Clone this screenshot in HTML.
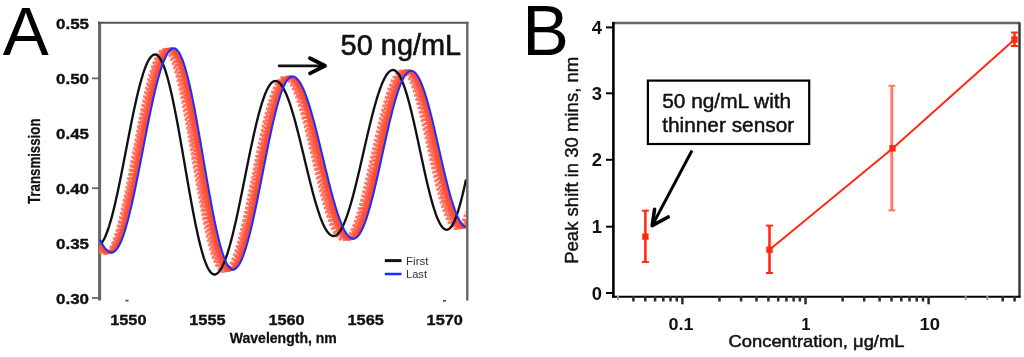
<!DOCTYPE html>
<html><head><meta charset="utf-8"><style>
html,body{margin:0;padding:0;background:#fff;overflow:hidden;width:1024px;height:357px;}
svg{display:block;will-change:transform;}
text{font-family:"Liberation Sans",sans-serif;}
.ya{font-size:15px;font-weight:bold;fill:#111;stroke:#111;stroke-width:0.35px;}
.yb{font-size:18.4px;font-weight:bold;fill:#111;}
</style></head><body>
<svg width="1024" height="357" viewBox="0 0 1024 357">
<rect width="1024" height="357" fill="#fff"/>
<!-- Panel A -->
<text x="2.8" y="54.9" font-size="69" fill="#000">A</text>
<line x1="99.6" y1="21.7" x2="99.6" y2="300.4" stroke="#666" stroke-width="3"/><line x1="98.1" y1="22.7" x2="468.5" y2="22.7" stroke="#555" stroke-width="2"/>
<g>
<path d="M100.0,252.5 L101.0,253.2 L102.0,253.6 L103.0,253.8 L104.0,253.8 L105.0,253.5 L106.0,252.9 L107.0,252.1 L108.0,251.0 L109.0,249.6 L110.0,247.9 L111.0,246.0 L112.0,243.8 L113.0,241.4 L114.0,238.7 L115.0,235.7 L116.0,232.6 L117.0,229.2 L118.0,225.6 L119.0,221.8 L120.0,217.8 L121.0,213.6 L122.0,209.2 L123.0,204.7 L124.0,200.1 L125.0,195.3 L126.0,190.4 L127.0,185.3 L128.0,180.2 L129.0,175.0 L130.0,169.8 L131.0,164.5 L132.0,159.1 L133.0,153.8 L134.0,148.4 L135.0,143.0 L136.0,137.7 L137.0,132.4 L138.0,127.2 L139.0,122.0 L140.0,116.9 L141.0,111.9 L142.0,107.0 L143.0,102.2 L144.0,97.6 L145.0,93.1 L146.0,88.8 L147.0,84.7 L148.0,80.7 L149.0,76.9 L150.0,73.4 L151.0,70.0 L152.0,66.9 L153.0,64.0 L154.0,61.4 L155.0,59.0 L156.0,56.9 L157.0,55.0 L158.0,53.4 L159.0,52.1 L160.0,51.0 L161.0,50.2 L162.0,49.7 L163.0,49.5 L164.0,49.6 L165.0,50.0 L166.0,50.7 L167.0,51.7 L168.0,53.0 L169.0,54.6 L170.0,56.5 L171.0,58.7 L172.0,61.2 L173.0,64.0 L174.0,67.0 L175.0,70.3 L176.0,73.8 L177.0,77.6 L178.0,81.7 L179.0,85.9 L180.0,90.4 L181.0,95.0 L182.0,99.9 L183.0,104.9 L184.0,110.1 L185.0,115.4 L186.0,120.8 L187.0,126.4 L188.0,132.0 L189.0,137.7 L190.0,143.5 L191.0,149.4 L192.0,155.2 L193.0,161.1 L194.0,167.0 L195.0,172.9 L196.0,178.7 L197.0,184.5 L198.0,190.2 L199.0,195.8 L200.0,201.4 L201.0,206.8 L202.0,212.1 L203.0,217.2 L204.0,222.2 L205.0,227.0 L206.0,231.7 L207.0,236.1 L208.0,240.3 L209.0,244.3 L210.0,248.1 L211.0,251.6 L212.0,254.9 L213.0,257.9 L214.0,260.6 L215.0,263.0 L216.0,265.2 L217.0,267.1 L218.0,268.6 L219.0,269.9 L220.0,270.8 L221.0,271.5 L222.0,271.8 L223.0,271.9 L224.0,271.6 L225.0,271.1 L226.0,270.3 L227.0,269.3 L228.0,268.0 L229.0,266.5 L230.0,264.7 L231.0,262.7 L232.0,260.4 L233.0,257.9 L234.0,255.1 L235.0,252.2 L236.0,249.0 L237.0,245.7 L238.0,242.1 L239.0,238.4 L240.0,234.5 L241.0,230.4 L242.0,226.1 L243.0,221.8 L244.0,217.3 L245.0,212.7 L246.0,207.9 L247.0,203.1 L248.0,198.2 L249.0,193.3 L250.0,188.3 L251.0,183.3 L252.0,178.2 L253.0,173.1 L254.0,168.1 L255.0,163.0 L256.0,158.0 L257.0,153.0 L258.0,148.1 L259.0,143.3 L260.0,138.5 L261.0,133.9 L262.0,129.3 L263.0,124.9 L264.0,120.6 L265.0,116.5 L266.0,112.5 L267.0,108.7 L268.0,105.0 L269.0,101.6 L270.0,98.3 L271.0,95.3 L272.0,92.5 L273.0,89.9 L274.0,87.5 L275.0,85.4 L276.0,83.5 L277.0,81.8 L278.0,80.4 L279.0,79.3 L280.0,78.4 L281.0,77.8 L282.0,77.5 L283.0,77.4 L284.0,77.5 L285.0,77.9 L286.0,78.5 L287.0,79.4 L288.0,80.4 L289.0,81.7 L290.0,83.2 L291.0,84.9 L292.0,86.8 L293.0,88.9 L294.0,91.2 L295.0,93.7 L296.0,96.3 L297.0,99.2 L298.0,102.2 L299.0,105.4 L300.0,108.7 L301.0,112.1 L302.0,115.7 L303.0,119.4 L304.0,123.2 L305.0,127.2 L306.0,131.2 L307.0,135.3 L308.0,139.4 L309.0,143.6 L310.0,147.9 L311.0,152.1 L312.0,156.4 L313.0,160.7 L314.0,165.0 L315.0,169.3 L316.0,173.5 L317.0,177.7 L318.0,181.9 L319.0,186.0 L320.0,190.0 L321.0,193.9 L322.0,197.8 L323.0,201.5 L324.0,205.1 L325.0,208.5 L326.0,211.9 L327.0,215.0 L328.0,218.1 L329.0,220.9 L330.0,223.6 L331.0,226.1 L332.0,228.4 L333.0,230.6 L334.0,232.5 L335.0,234.2 L336.0,235.7 L337.0,237.0 L338.0,238.0 L339.0,238.9 L340.0,239.5 L341.0,239.9 L342.0,240.1 L343.0,240.0 L344.0,239.7 L345.0,239.2 L346.0,238.4 L347.0,237.4 L348.0,236.1 L349.0,234.7 L350.0,233.0 L351.0,231.0 L352.0,228.9 L353.0,226.5 L354.0,224.0 L355.0,221.2 L356.0,218.3 L357.0,215.1 L358.0,211.9 L359.0,208.4 L360.0,204.8 L361.0,201.1 L362.0,197.2 L363.0,193.2 L364.0,189.1 L365.0,184.9 L366.0,180.6 L367.0,176.2 L368.0,171.8 L369.0,167.4 L370.0,162.9 L371.0,158.4 L372.0,153.8 L373.0,149.3 L374.0,144.8 L375.0,140.3 L376.0,135.9 L377.0,131.5 L378.0,127.2 L379.0,123.0 L380.0,118.9 L381.0,114.8 L382.0,110.9 L383.0,107.1 L384.0,103.5 L385.0,100.0 L386.0,96.6 L387.0,93.5 L388.0,90.5 L389.0,87.6 L390.0,85.0 L391.0,82.6 L392.0,80.4 L393.0,78.4 L394.0,76.6 L395.0,75.1 L396.0,73.7 L397.0,72.6 L398.0,71.8 L399.0,71.2 L400.0,70.8 L401.0,70.6 L402.0,70.8 L403.0,71.1 L404.0,71.8 L405.0,72.7 L406.0,73.8 L407.0,75.2 L408.0,76.9 L409.0,78.8 L410.0,80.9 L411.0,83.3 L412.0,85.9 L413.0,88.7 L414.0,91.7 L415.0,94.9 L416.0,98.2 L417.0,101.8 L418.0,105.5 L419.0,109.3 L420.0,113.3 L421.0,117.4 L422.0,121.7 L423.0,126.0 L424.0,130.4 L425.0,134.8 L426.0,139.3 L427.0,143.8 L428.0,148.4 L429.0,153.0 L430.0,157.5 L431.0,162.1 L432.0,166.5 L433.0,171.0 L434.0,175.3 L435.0,179.6 L436.0,183.8 L437.0,187.8 L438.0,191.8 L439.0,195.6 L440.0,199.2 L441.0,202.7 L442.0,206.0 L443.0,209.1 L444.0,212.0 L445.0,214.8 L446.0,217.3 L447.0,219.5 L448.0,221.6 L449.0,223.4 L450.0,224.9 L451.0,226.2 L452.0,227.3 L453.0,228.1 L454.0,228.6 L455.0,228.9 L456.0,228.9 L457.0,228.6 L458.0,228.0 L459.0,227.0 L460.0,225.7 L461.0,224.1 L462.0,222.2 L463.0,220.0 L464.0,217.5 L465.0,214.8 L466.0,211.7" stroke="#ff8272" stroke-width="2.4" fill="none" stroke-dasharray="2.6 1.8"/>
<path d="M100.0,251.7 L101.0,252.5 L102.0,253.1 L103.0,253.5 L104.0,253.6 L105.0,253.6 L106.0,253.3 L107.0,252.7 L108.0,251.8 L109.0,250.7 L110.0,249.3 L111.0,247.6 L112.0,245.7 L113.0,243.5 L114.0,241.0 L115.0,238.3 L116.0,235.4 L117.0,232.2 L118.0,228.8 L119.0,225.2 L120.0,221.4 L121.0,217.4 L122.0,213.3 L123.0,208.9 L124.0,204.4 L125.0,199.8 L126.0,195.0 L127.0,190.1 L128.0,185.1 L129.0,180.0 L130.0,174.8 L131.0,169.6 L132.0,164.3 L133.0,159.0 L134.0,153.7 L135.0,148.3 L136.0,143.0 L137.0,137.7 L138.0,132.4 L139.0,127.2 L140.0,122.0 L141.0,116.9 L142.0,111.9 L143.0,107.1 L144.0,102.3 L145.0,97.7 L146.0,93.2 L147.0,88.9 L148.0,84.8 L149.0,80.8 L150.0,77.1 L151.0,73.5 L152.0,70.2 L153.0,67.0 L154.0,64.2 L155.0,61.5 L156.0,59.1 L157.0,57.0 L158.0,55.1 L159.0,53.4 L160.0,52.1 L161.0,51.0 L162.0,50.2 L163.0,49.7 L164.0,49.4 L165.0,49.4 L166.0,49.8 L167.0,50.4 L168.0,51.4 L169.0,52.7 L170.0,54.2 L171.0,56.1 L172.0,58.3 L173.0,60.7 L174.0,63.4 L175.0,66.5 L176.0,69.7 L177.0,73.2 L178.0,77.0 L179.0,81.0 L180.0,85.2 L181.0,89.7 L182.0,94.3 L183.0,99.1 L184.0,104.1 L185.0,109.2 L186.0,114.5 L187.0,120.0 L188.0,125.5 L189.0,131.1 L190.0,136.8 L191.0,142.6 L192.0,148.5 L193.0,154.3 L194.0,160.2 L195.0,166.1 L196.0,172.0 L197.0,177.8 L198.0,183.6 L199.0,189.3 L200.0,195.0 L201.0,200.5 L202.0,205.9 L203.0,211.2 L204.0,216.4 L205.0,221.4 L206.0,226.2 L207.0,230.9 L208.0,235.4 L209.0,239.6 L210.0,243.6 L211.0,247.4 L212.0,251.0 L213.0,254.2 L214.0,257.3 L215.0,260.0 L216.0,262.5 L217.0,264.7 L218.0,266.6 L219.0,268.2 L220.0,269.5 L221.0,270.5 L222.0,271.2 L223.0,271.5 L224.0,271.6 L225.0,271.4 L226.0,270.9 L227.0,270.2 L228.0,269.2 L229.0,267.9 L230.0,266.4 L231.0,264.6 L232.0,262.6 L233.0,260.4 L234.0,257.9 L235.0,255.2 L236.0,252.3 L237.0,249.1 L238.0,245.8 L239.0,242.2 L240.0,238.5 L241.0,234.6 L242.0,230.5 L243.0,226.3 L244.0,221.9 L245.0,217.4 L246.0,212.8 L247.0,208.1 L248.0,203.3 L249.0,198.4 L250.0,193.5 L251.0,188.5 L252.0,183.5 L253.0,178.4 L254.0,173.3 L255.0,168.2 L256.0,163.2 L257.0,158.2 L258.0,153.2 L259.0,148.3 L260.0,143.4 L261.0,138.7 L262.0,134.0 L263.0,129.4 L264.0,125.0 L265.0,120.7 L266.0,116.5 L267.0,112.5 L268.0,108.7 L269.0,105.1 L270.0,101.6 L271.0,98.4 L272.0,95.3 L273.0,92.5 L274.0,89.9 L275.0,87.5 L276.0,85.3 L277.0,83.4 L278.0,81.8 L279.0,80.4 L280.0,79.2 L281.0,78.4 L282.0,77.7 L283.0,77.4 L284.0,77.3 L285.0,77.4 L286.0,77.8 L287.0,78.4 L288.0,79.2 L289.0,80.3 L290.0,81.5 L291.0,83.0 L292.0,84.7 L293.0,86.6 L294.0,88.7 L295.0,90.9 L296.0,93.4 L297.0,96.1 L298.0,98.9 L299.0,101.9 L300.0,105.0 L301.0,108.3 L302.0,111.8 L303.0,115.3 L304.0,119.0 L305.0,122.8 L306.0,126.7 L307.0,130.7 L308.0,134.8 L309.0,138.9 L310.0,143.1 L311.0,147.3 L312.0,151.6 L313.0,155.8 L314.0,160.1 L315.0,164.4 L316.0,168.7 L317.0,172.9 L318.0,177.1 L319.0,181.3 L320.0,185.3 L321.0,189.3 L322.0,193.3 L323.0,197.1 L324.0,200.8 L325.0,204.4 L326.0,207.9 L327.0,211.2 L328.0,214.4 L329.0,217.5 L330.0,220.4 L331.0,223.1 L332.0,225.6 L333.0,227.9 L334.0,230.1 L335.0,232.0 L336.0,233.8 L337.0,235.3 L338.0,236.6 L339.0,237.7 L340.0,238.6 L341.0,239.3 L342.0,239.7 L343.0,239.9 L344.0,239.9 L345.0,239.7 L346.0,239.2 L347.0,238.4 L348.0,237.5 L349.0,236.2 L350.0,234.8 L351.0,233.1 L352.0,231.2 L353.0,229.1 L354.0,226.8 L355.0,224.3 L356.0,221.6 L357.0,218.7 L358.0,215.6 L359.0,212.3 L360.0,208.9 L361.0,205.3 L362.0,201.6 L363.0,197.7 L364.0,193.7 L365.0,189.6 L366.0,185.4 L367.0,181.2 L368.0,176.8 L369.0,172.4 L370.0,167.9 L371.0,163.4 L372.0,158.9 L373.0,154.4 L374.0,149.9 L375.0,145.4 L376.0,140.9 L377.0,136.4 L378.0,132.1 L379.0,127.7 L380.0,123.5 L381.0,119.3 L382.0,115.3 L383.0,111.4 L384.0,107.6 L385.0,103.9 L386.0,100.4 L387.0,97.0 L388.0,93.8 L389.0,90.8 L390.0,87.9 L391.0,85.3 L392.0,82.8 L393.0,80.6 L394.0,78.6 L395.0,76.8 L396.0,75.2 L397.0,73.9 L398.0,72.7 L399.0,71.9 L400.0,71.2 L401.0,70.8 L402.0,70.7 L403.0,70.8 L404.0,71.1 L405.0,71.7 L406.0,72.6 L407.0,73.7 L408.0,75.1 L409.0,76.7 L410.0,78.6 L411.0,80.7 L412.0,83.0 L413.0,85.6 L414.0,88.3 L415.0,91.3 L416.0,94.5 L417.0,97.8 L418.0,101.3 L419.0,105.0 L420.0,108.8 L421.0,112.8 L422.0,116.8 L423.0,121.0 L424.0,125.3 L425.0,129.7 L426.0,134.1 L427.0,138.6 L428.0,143.1 L429.0,147.7 L430.0,152.2 L431.0,156.7 L432.0,161.3 L433.0,165.7 L434.0,170.2 L435.0,174.5 L436.0,178.8 L437.0,183.0 L438.0,187.0 L439.0,191.0 L440.0,194.8 L441.0,198.4 L442.0,201.9 L443.0,205.3 L444.0,208.4 L445.0,211.4 L446.0,214.1 L447.0,216.6 L448.0,218.9 L449.0,221.0 L450.0,222.9 L451.0,224.5 L452.0,225.8 L453.0,226.9 L454.0,227.8 L455.0,228.3 L456.0,228.7 L457.0,228.7 L458.0,228.5 L459.0,227.9 L460.0,227.0 L461.0,225.8 L462.0,224.2 L463.0,222.4 L464.0,220.2 L465.0,217.7 L466.0,214.9" stroke="#ff7a6a" stroke-width="2.4" fill="none" stroke-dasharray="2.6 1.8"/>
<path d="M100.0,250.7 L101.0,251.7 L102.0,252.4 L103.0,253.0 L104.0,253.3 L105.0,253.5 L106.0,253.4 L107.0,253.1 L108.0,252.5 L109.0,251.6 L110.0,250.4 L111.0,249.0 L112.0,247.3 L113.0,245.4 L114.0,243.1 L115.0,240.7 L116.0,238.0 L117.0,235.0 L118.0,231.9 L119.0,228.5 L120.0,224.9 L121.0,221.1 L122.0,217.1 L123.0,212.9 L124.0,208.6 L125.0,204.1 L126.0,199.5 L127.0,194.7 L128.0,189.9 L129.0,184.9 L130.0,179.8 L131.0,174.6 L132.0,169.4 L133.0,164.2 L134.0,158.9 L135.0,153.6 L136.0,148.2 L137.0,142.9 L138.0,137.6 L139.0,132.4 L140.0,127.2 L141.0,122.0 L142.0,117.0 L143.0,112.0 L144.0,107.1 L145.0,102.4 L146.0,97.8 L147.0,93.3 L148.0,89.0 L149.0,84.9 L150.0,80.9 L151.0,77.2 L152.0,73.6 L153.0,70.3 L154.0,67.2 L155.0,64.3 L156.0,61.6 L157.0,59.2 L158.0,57.0 L159.0,55.1 L160.0,53.5 L161.0,52.1 L162.0,51.0 L163.0,50.1 L164.0,49.6 L165.0,49.3 L166.0,49.3 L167.0,49.6 L168.0,50.2 L169.0,51.1 L170.0,52.4 L171.0,53.9 L172.0,55.7 L173.0,57.8 L174.0,60.3 L175.0,63.0 L176.0,65.9 L177.0,69.1 L178.0,72.6 L179.0,76.4 L180.0,80.3 L181.0,84.5 L182.0,88.9 L183.0,93.5 L184.0,98.3 L185.0,103.3 L186.0,108.4 L187.0,113.7 L188.0,119.1 L189.0,124.6 L190.0,130.3 L191.0,136.0 L192.0,141.7 L193.0,147.6 L194.0,153.4 L195.0,159.3 L196.0,165.2 L197.0,171.1 L198.0,176.9 L199.0,182.7 L200.0,188.4 L201.0,194.1 L202.0,199.6 L203.0,205.1 L204.0,210.4 L205.0,215.6 L206.0,220.6 L207.0,225.4 L208.0,230.1 L209.0,234.6 L210.0,238.9 L211.0,242.9 L212.0,246.7 L213.0,250.3 L214.0,253.6 L215.0,256.7 L216.0,259.5 L217.0,262.0 L218.0,264.2 L219.0,266.1 L220.0,267.8 L221.0,269.1 L222.0,270.1 L223.0,270.9 L224.0,271.3 L225.0,271.4 L226.0,271.2 L227.0,270.7 L228.0,270.0 L229.0,269.1 L230.0,267.8 L231.0,266.3 L232.0,264.6 L233.0,262.6 L234.0,260.4 L235.0,257.9 L236.0,255.2 L237.0,252.3 L238.0,249.2 L239.0,245.9 L240.0,242.3 L241.0,238.6 L242.0,234.7 L243.0,230.7 L244.0,226.5 L245.0,222.1 L246.0,217.6 L247.0,213.0 L248.0,208.3 L249.0,203.5 L250.0,198.6 L251.0,193.7 L252.0,188.7 L253.0,183.6 L254.0,178.6 L255.0,173.5 L256.0,168.4 L257.0,163.4 L258.0,158.3 L259.0,153.4 L260.0,148.4 L261.0,143.6 L262.0,138.8 L263.0,134.1 L264.0,129.5 L265.0,125.1 L266.0,120.8 L267.0,116.6 L268.0,112.6 L269.0,108.8 L270.0,105.1 L271.0,101.7 L272.0,98.4 L273.0,95.3 L274.0,92.5 L275.0,89.9 L276.0,87.5 L277.0,85.3 L278.0,83.4 L279.0,81.7 L280.0,80.3 L281.0,79.2 L282.0,78.3 L283.0,77.7 L284.0,77.3 L285.0,77.2 L286.0,77.3 L287.0,77.7 L288.0,78.3 L289.0,79.1 L290.0,80.1 L291.0,81.4 L292.0,82.8 L293.0,84.5 L294.0,86.4 L295.0,88.4 L296.0,90.7 L297.0,93.2 L298.0,95.8 L299.0,98.6 L300.0,101.6 L301.0,104.7 L302.0,108.0 L303.0,111.4 L304.0,114.9 L305.0,118.6 L306.0,122.4 L307.0,126.2 L308.0,130.2 L309.0,134.3 L310.0,138.4 L311.0,142.5 L312.0,146.7 L313.0,151.0 L314.0,155.2 L315.0,159.5 L316.0,163.8 L317.0,168.0 L318.0,172.3 L319.0,176.5 L320.0,180.6 L321.0,184.7 L322.0,188.7 L323.0,192.6 L324.0,196.5 L325.0,200.2 L326.0,203.8 L327.0,207.3 L328.0,210.6 L329.0,213.8 L330.0,216.9 L331.0,219.8 L332.0,222.5 L333.0,225.0 L334.0,227.4 L335.0,229.6 L336.0,231.6 L337.0,233.3 L338.0,234.9 L339.0,236.2 L340.0,237.4 L341.0,238.3 L342.0,239.0 L343.0,239.5 L344.0,239.8 L345.0,239.8 L346.0,239.6 L347.0,239.1 L348.0,238.4 L349.0,237.5 L350.0,236.3 L351.0,234.9 L352.0,233.3 L353.0,231.5 L354.0,229.4 L355.0,227.1 L356.0,224.6 L357.0,221.9 L358.0,219.0 L359.0,216.0 L360.0,212.7 L361.0,209.3 L362.0,205.8 L363.0,202.0 L364.0,198.2 L365.0,194.2 L366.0,190.2 L367.0,186.0 L368.0,181.7 L369.0,177.4 L370.0,173.0 L371.0,168.5 L372.0,164.0 L373.0,159.5 L374.0,155.0 L375.0,150.4 L376.0,145.9 L377.0,141.4 L378.0,137.0 L379.0,132.6 L380.0,128.2 L381.0,124.0 L382.0,119.8 L383.0,115.8 L384.0,111.8 L385.0,108.0 L386.0,104.3 L387.0,100.7 L388.0,97.4 L389.0,94.1 L390.0,91.1 L391.0,88.2 L392.0,85.6 L393.0,83.1 L394.0,80.8 L395.0,78.8 L396.0,77.0 L397.0,75.4 L398.0,74.0 L399.0,72.8 L400.0,71.9 L401.0,71.3 L402.0,70.9 L403.0,70.7 L404.0,70.8 L405.0,71.1 L406.0,71.7 L407.0,72.5 L408.0,73.6 L409.0,75.0 L410.0,76.6 L411.0,78.4 L412.0,80.5 L413.0,82.8 L414.0,85.3 L415.0,88.0 L416.0,90.9 L417.0,94.1 L418.0,97.4 L419.0,100.9 L420.0,104.5 L421.0,108.3 L422.0,112.2 L423.0,116.3 L424.0,120.4 L425.0,124.7 L426.0,129.0 L427.0,133.4 L428.0,137.9 L429.0,142.4 L430.0,146.9 L431.0,151.4 L432.0,156.0 L433.0,160.5 L434.0,164.9 L435.0,169.3 L436.0,173.7 L437.0,178.0 L438.0,182.2 L439.0,186.2 L440.0,190.2 L441.0,194.0 L442.0,197.7 L443.0,201.2 L444.0,204.5 L445.0,207.7 L446.0,210.7 L447.0,213.4 L448.0,216.0 L449.0,218.3 L450.0,220.4 L451.0,222.3 L452.0,224.0 L453.0,225.4 L454.0,226.5 L455.0,227.4 L456.0,228.0 L457.0,228.4 L458.0,228.5 L459.0,228.3 L460.0,227.8 L461.0,227.0 L462.0,225.8 L463.0,224.3 L464.0,222.5 L465.0,220.3 L466.0,217.9" stroke="#ff7262" stroke-width="2.4" fill="none" stroke-dasharray="2.6 1.5"/>
<path d="M100.0,249.6 L101.0,250.7 L102.0,251.6 L103.0,252.3 L104.0,252.9 L105.0,253.2 L106.0,253.3 L107.0,253.3 L108.0,252.9 L109.0,252.3 L110.0,251.3 L111.0,250.2 L112.0,248.7 L113.0,247.0 L114.0,245.0 L115.0,242.8 L116.0,240.3 L117.0,237.6 L118.0,234.7 L119.0,231.5 L120.0,228.1 L121.0,224.5 L122.0,220.8 L123.0,216.8 L124.0,212.6 L125.0,208.3 L126.0,203.8 L127.0,199.2 L128.0,194.5 L129.0,189.6 L130.0,184.6 L131.0,179.6 L132.0,174.5 L133.0,169.3 L134.0,164.0 L135.0,158.7 L136.0,153.4 L137.0,148.1 L138.0,142.8 L139.0,137.6 L140.0,132.3 L141.0,127.2 L142.0,122.0 L143.0,117.0 L144.0,112.0 L145.0,107.2 L146.0,102.5 L147.0,97.9 L148.0,93.4 L149.0,89.1 L150.0,85.0 L151.0,81.1 L152.0,77.3 L153.0,73.8 L154.0,70.4 L155.0,67.3 L156.0,64.4 L157.0,61.7 L158.0,59.3 L159.0,57.1 L160.0,55.2 L161.0,53.5 L162.0,52.1 L163.0,51.0 L164.0,50.1 L165.0,49.5 L166.0,49.2 L167.0,49.1 L168.0,49.4 L169.0,50.0 L170.0,50.9 L171.0,52.1 L172.0,53.5 L173.0,55.3 L174.0,57.4 L175.0,59.8 L176.0,62.5 L177.0,65.4 L178.0,68.6 L179.0,72.0 L180.0,75.7 L181.0,79.7 L182.0,83.8 L183.0,88.2 L184.0,92.8 L185.0,97.6 L186.0,102.5 L187.0,107.6 L188.0,112.9 L189.0,118.3 L190.0,123.8 L191.0,129.4 L192.0,135.1 L193.0,140.8 L194.0,146.7 L195.0,152.5 L196.0,158.4 L197.0,164.3 L198.0,170.1 L199.0,176.0 L200.0,181.8 L201.0,187.5 L202.0,193.2 L203.0,198.7 L204.0,204.2 L205.0,209.5 L206.0,214.7 L207.0,219.8 L208.0,224.6 L209.0,229.3 L210.0,233.8 L211.0,238.1 L212.0,242.2 L213.0,246.0 L214.0,249.7 L215.0,253.0 L216.0,256.1 L217.0,258.9 L218.0,261.5 L219.0,263.7 L220.0,265.7 L221.0,267.3 L222.0,268.7 L223.0,269.8 L224.0,270.5 L225.0,271.0 L226.0,271.1 L227.0,271.0 L228.0,270.5 L229.0,269.9 L230.0,268.9 L231.0,267.7 L232.0,266.3 L233.0,264.5 L234.0,262.6 L235.0,260.4 L236.0,257.9 L237.0,255.3 L238.0,252.4 L239.0,249.3 L240.0,245.9 L241.0,242.4 L242.0,238.7 L243.0,234.9 L244.0,230.8 L245.0,226.6 L246.0,222.3 L247.0,217.8 L248.0,213.2 L249.0,208.5 L250.0,203.7 L251.0,198.8 L252.0,193.9 L253.0,188.9 L254.0,183.8 L255.0,178.8 L256.0,173.7 L257.0,168.6 L258.0,163.5 L259.0,158.5 L260.0,153.5 L261.0,148.6 L262.0,143.7 L263.0,138.9 L264.0,134.2 L265.0,129.7 L266.0,125.2 L267.0,120.9 L268.0,116.7 L269.0,112.7 L270.0,108.9 L271.0,105.2 L272.0,101.7 L273.0,98.4 L274.0,95.4 L275.0,92.5 L276.0,89.9 L277.0,87.5 L278.0,85.3 L279.0,83.4 L280.0,81.7 L281.0,80.3 L282.0,79.1 L283.0,78.2 L284.0,77.6 L285.0,77.2 L286.0,77.1 L287.0,77.2 L288.0,77.6 L289.0,78.2 L290.0,79.0 L291.0,80.0 L292.0,81.2 L293.0,82.7 L294.0,84.3 L295.0,86.2 L296.0,88.2 L297.0,90.5 L298.0,92.9 L299.0,95.5 L300.0,98.3 L301.0,101.2 L302.0,104.4 L303.0,107.6 L304.0,111.0 L305.0,114.5 L306.0,118.2 L307.0,121.9 L308.0,125.8 L309.0,129.7 L310.0,133.8 L311.0,137.9 L312.0,142.0 L313.0,146.2 L314.0,150.4 L315.0,154.7 L316.0,158.9 L317.0,163.2 L318.0,167.4 L319.0,171.6 L320.0,175.8 L321.0,180.0 L322.0,184.0 L323.0,188.0 L324.0,192.0 L325.0,195.8 L326.0,199.5 L327.0,203.1 L328.0,206.6 L329.0,210.0 L330.0,213.2 L331.0,216.3 L332.0,219.2 L333.0,221.9 L334.0,224.5 L335.0,226.9 L336.0,229.1 L337.0,231.1 L338.0,232.9 L339.0,234.5 L340.0,235.9 L341.0,237.1 L342.0,238.0 L343.0,238.8 L344.0,239.3 L345.0,239.6 L346.0,239.6 L347.0,239.5 L348.0,239.1 L349.0,238.4 L350.0,237.5 L351.0,236.4 L352.0,235.1 L353.0,233.5 L354.0,231.7 L355.0,229.6 L356.0,227.4 L357.0,224.9 L358.0,222.3 L359.0,219.4 L360.0,216.4 L361.0,213.1 L362.0,209.8 L363.0,206.2 L364.0,202.5 L365.0,198.7 L366.0,194.8 L367.0,190.7 L368.0,186.5 L369.0,182.3 L370.0,177.9 L371.0,173.5 L372.0,169.1 L373.0,164.6 L374.0,160.1 L375.0,155.5 L376.0,151.0 L377.0,146.5 L378.0,142.0 L379.0,137.5 L380.0,133.1 L381.0,128.8 L382.0,124.5 L383.0,120.3 L384.0,116.2 L385.0,112.3 L386.0,108.4 L387.0,104.7 L388.0,101.1 L389.0,97.7 L390.0,94.5 L391.0,91.4 L392.0,88.5 L393.0,85.8 L394.0,83.4 L395.0,81.1 L396.0,79.0 L397.0,77.1 L398.0,75.5 L399.0,74.1 L400.0,73.0 L401.0,72.0 L402.0,71.3 L403.0,70.9 L404.0,70.7 L405.0,70.8 L406.0,71.1 L407.0,71.6 L408.0,72.4 L409.0,73.5 L410.0,74.8 L411.0,76.4 L412.0,78.2 L413.0,80.2 L414.0,82.5 L415.0,85.0 L416.0,87.7 L417.0,90.6 L418.0,93.7 L419.0,97.0 L420.0,100.4 L421.0,104.0 L422.0,107.8 L423.0,111.7 L424.0,115.7 L425.0,119.8 L426.0,124.0 L427.0,128.4 L428.0,132.7 L429.0,137.2 L430.0,141.7 L431.0,146.2 L432.0,150.7 L433.0,155.2 L434.0,159.7 L435.0,164.1 L436.0,168.5 L437.0,172.9 L438.0,177.2 L439.0,181.3 L440.0,185.4 L441.0,189.4 L442.0,193.2 L443.0,196.9 L444.0,200.4 L445.0,203.8 L446.0,207.0 L447.0,210.0 L448.0,212.8 L449.0,215.3 L450.0,217.7 L451.0,219.9 L452.0,221.8 L453.0,223.5 L454.0,224.9 L455.0,226.1 L456.0,227.0 L457.0,227.7 L458.0,228.1 L459.0,228.3 L460.0,228.2 L461.0,227.7 L462.0,227.0 L463.0,225.8 L464.0,224.4 L465.0,222.6 L466.0,220.5" stroke="#ff6a58" stroke-width="2.4" fill="none" stroke-dasharray="2.6 1.2"/>
<path d="M100.0,248.3 L101.0,249.6 L102.0,250.7 L103.0,251.6 L104.0,252.3 L105.0,252.8 L106.0,253.1 L107.0,253.2 L108.0,253.1 L109.0,252.7 L110.0,252.0 L111.0,251.1 L112.0,249.9 L113.0,248.4 L114.0,246.7 L115.0,244.7 L116.0,242.5 L117.0,240.0 L118.0,237.3 L119.0,234.3 L120.0,231.2 L121.0,227.8 L122.0,224.2 L123.0,220.4 L124.0,216.4 L125.0,212.3 L126.0,208.0 L127.0,203.5 L128.0,198.9 L129.0,194.2 L130.0,189.4 L131.0,184.4 L132.0,179.4 L133.0,174.3 L134.0,169.1 L135.0,163.9 L136.0,158.6 L137.0,153.3 L138.0,148.1 L139.0,142.8 L140.0,137.5 L141.0,132.3 L142.0,127.1 L143.0,122.0 L144.0,117.0 L145.0,112.1 L146.0,107.3 L147.0,102.6 L148.0,98.0 L149.0,93.5 L150.0,89.3 L151.0,85.1 L152.0,81.2 L153.0,77.4 L154.0,73.9 L155.0,70.5 L156.0,67.4 L157.0,64.5 L158.0,61.8 L159.0,59.4 L160.0,57.2 L161.0,55.2 L162.0,53.5 L163.0,52.1 L164.0,50.9 L165.0,50.1 L166.0,49.4 L167.0,49.1 L168.0,49.0 L169.0,49.2 L170.0,49.8 L171.0,50.6 L172.0,51.8 L173.0,53.2 L174.0,55.0 L175.0,57.0 L176.0,59.4 L177.0,62.0 L178.0,64.9 L179.0,68.0 L180.0,71.5 L181.0,75.1 L182.0,79.0 L183.0,83.2 L184.0,87.5 L185.0,92.1 L186.0,96.8 L187.0,101.7 L188.0,106.8 L189.0,112.1 L190.0,117.4 L191.0,122.9 L192.0,128.5 L193.0,134.2 L194.0,139.9 L195.0,145.8 L196.0,151.6 L197.0,157.5 L198.0,163.4 L199.0,169.2 L200.0,175.1 L201.0,180.9 L202.0,186.6 L203.0,192.3 L204.0,197.9 L205.0,203.3 L206.0,208.7 L207.0,213.9 L208.0,219.0 L209.0,223.8 L210.0,228.6 L211.0,233.1 L212.0,237.4 L213.0,241.5 L214.0,245.4 L215.0,249.0 L216.0,252.4 L217.0,255.5 L218.0,258.3 L219.0,260.9 L220.0,263.2 L221.0,265.2 L222.0,266.9 L223.0,268.3 L224.0,269.4 L225.0,270.2 L226.0,270.7 L227.0,270.9 L228.0,270.7 L229.0,270.4 L230.0,269.7 L231.0,268.8 L232.0,267.6 L233.0,266.2 L234.0,264.5 L235.0,262.5 L236.0,260.4 L237.0,257.9 L238.0,255.3 L239.0,252.4 L240.0,249.3 L241.0,246.0 L242.0,242.5 L243.0,238.8 L244.0,235.0 L245.0,231.0 L246.0,226.8 L247.0,222.4 L248.0,218.0 L249.0,213.4 L250.0,208.7 L251.0,203.9 L252.0,199.0 L253.0,194.1 L254.0,189.1 L255.0,184.0 L256.0,179.0 L257.0,173.9 L258.0,168.8 L259.0,163.7 L260.0,158.7 L261.0,153.7 L262.0,148.7 L263.0,143.9 L264.0,139.1 L265.0,134.4 L266.0,129.8 L267.0,125.3 L268.0,121.0 L269.0,116.8 L270.0,112.8 L271.0,108.9 L272.0,105.2 L273.0,101.8 L274.0,98.5 L275.0,95.4 L276.0,92.5 L277.0,89.9 L278.0,87.4 L279.0,85.3 L280.0,83.3 L281.0,81.7 L282.0,80.2 L283.0,79.1 L284.0,78.1 L285.0,77.5 L286.0,77.1 L287.0,77.0 L288.0,77.1 L289.0,77.5 L290.0,78.0 L291.0,78.8 L292.0,79.8 L293.0,81.1 L294.0,82.5 L295.0,84.1 L296.0,86.0 L297.0,88.0 L298.0,90.2 L299.0,92.6 L300.0,95.2 L301.0,98.0 L302.0,100.9 L303.0,104.0 L304.0,107.3 L305.0,110.6 L306.0,114.1 L307.0,117.8 L308.0,121.5 L309.0,125.3 L310.0,129.3 L311.0,133.3 L312.0,137.3 L313.0,141.5 L314.0,145.6 L315.0,149.9 L316.0,154.1 L317.0,158.3 L318.0,162.6 L319.0,166.8 L320.0,171.0 L321.0,175.2 L322.0,179.3 L323.0,183.4 L324.0,187.4 L325.0,191.3 L326.0,195.2 L327.0,198.9 L328.0,202.5 L329.0,206.0 L330.0,209.4 L331.0,212.6 L332.0,215.7 L333.0,218.6 L334.0,221.4 L335.0,224.0 L336.0,226.4 L337.0,228.6 L338.0,230.6 L339.0,232.4 L340.0,234.1 L341.0,235.5 L342.0,236.7 L343.0,237.7 L344.0,238.5 L345.0,239.0 L346.0,239.4 L347.0,239.5 L348.0,239.4 L349.0,239.0 L350.0,238.4 L351.0,237.6 L352.0,236.5 L353.0,235.2 L354.0,233.6 L355.0,231.9 L356.0,229.9 L357.0,227.6 L358.0,225.2 L359.0,222.6 L360.0,219.8 L361.0,216.8 L362.0,213.6 L363.0,210.2 L364.0,206.7 L365.0,203.0 L366.0,199.2 L367.0,195.3 L368.0,191.2 L369.0,187.1 L370.0,182.8 L371.0,178.5 L372.0,174.1 L373.0,169.7 L374.0,165.2 L375.0,160.6 L376.0,156.1 L377.0,151.6 L378.0,147.0 L379.0,142.5 L380.0,138.1 L381.0,133.6 L382.0,129.3 L383.0,125.0 L384.0,120.8 L385.0,116.7 L386.0,112.7 L387.0,108.8 L388.0,105.1 L389.0,101.5 L390.0,98.1 L391.0,94.8 L392.0,91.7 L393.0,88.8 L394.0,86.1 L395.0,83.6 L396.0,81.3 L397.0,79.2 L398.0,77.3 L399.0,75.7 L400.0,74.3 L401.0,73.1 L402.0,72.1 L403.0,71.4 L404.0,71.0 L405.0,70.7 L406.0,70.8 L407.0,71.0 L408.0,71.6 L409.0,72.4 L410.0,73.4 L411.0,74.7 L412.0,76.2 L413.0,78.0 L414.0,80.0 L415.0,82.2 L416.0,84.7 L417.0,87.4 L418.0,90.2 L419.0,93.3 L420.0,96.5 L421.0,100.0 L422.0,103.5 L423.0,107.3 L424.0,111.1 L425.0,115.1 L426.0,119.2 L427.0,123.4 L428.0,127.7 L429.0,132.1 L430.0,136.5 L431.0,140.9 L432.0,145.4 L433.0,149.9 L434.0,154.4 L435.0,158.9 L436.0,163.3 L437.0,167.7 L438.0,172.1 L439.0,176.4 L440.0,180.5 L441.0,184.6 L442.0,188.6 L443.0,192.4 L444.0,196.1 L445.0,199.7 L446.0,203.0 L447.0,206.2 L448.0,209.3 L449.0,212.1 L450.0,214.7 L451.0,217.1 L452.0,219.3 L453.0,221.2 L454.0,223.0 L455.0,224.4 L456.0,225.7 L457.0,226.7 L458.0,227.4 L459.0,227.9 L460.0,228.1 L461.0,228.0 L462.0,227.7 L463.0,226.9 L464.0,225.8 L465.0,224.4 L466.0,222.7" stroke="#ff624e" stroke-width="2.4" fill="none" stroke-dasharray="3 1"/>
<path d="M100.0,246.9 L101.0,248.4 L102.0,249.6 L103.0,250.7 L104.0,251.5 L105.0,252.2 L106.0,252.7 L107.0,253.0 L108.0,253.0 L109.0,252.9 L110.0,252.5 L111.0,251.8 L112.0,250.8 L113.0,249.6 L114.0,248.1 L115.0,246.4 L116.0,244.4 L117.0,242.2 L118.0,239.7 L119.0,236.9 L120.0,234.0 L121.0,230.8 L122.0,227.4 L123.0,223.9 L124.0,220.1 L125.0,216.1 L126.0,212.0 L127.0,207.7 L128.0,203.2 L129.0,198.7 L130.0,193.9 L131.0,189.1 L132.0,184.2 L133.0,179.2 L134.0,174.1 L135.0,168.9 L136.0,163.7 L137.0,158.5 L138.0,153.2 L139.0,148.0 L140.0,142.7 L141.0,137.5 L142.0,132.3 L143.0,127.1 L144.0,122.1 L145.0,117.1 L146.0,112.1 L147.0,107.3 L148.0,102.6 L149.0,98.1 L150.0,93.6 L151.0,89.4 L152.0,85.2 L153.0,81.3 L154.0,77.6 L155.0,74.0 L156.0,70.6 L157.0,67.5 L158.0,64.6 L159.0,61.9 L160.0,59.4 L161.0,57.2 L162.0,55.3 L163.0,53.6 L164.0,52.1 L165.0,50.9 L166.0,50.0 L167.0,49.4 L168.0,49.0 L169.0,48.9 L170.0,49.0 L171.0,49.5 L172.0,50.3 L173.0,51.5 L174.0,52.9 L175.0,54.6 L176.0,56.6 L177.0,58.9 L178.0,61.5 L179.0,64.3 L180.0,67.5 L181.0,70.9 L182.0,74.5 L183.0,78.4 L184.0,82.5 L185.0,86.8 L186.0,91.3 L187.0,96.1 L188.0,101.0 L189.0,106.0 L190.0,111.2 L191.0,116.6 L192.0,122.1 L193.0,127.6 L194.0,133.3 L195.0,139.1 L196.0,144.9 L197.0,150.7 L198.0,156.6 L199.0,162.5 L200.0,168.3 L201.0,174.2 L202.0,180.0 L203.0,185.7 L204.0,191.4 L205.0,197.0 L206.0,202.5 L207.0,207.8 L208.0,213.1 L209.0,218.1 L210.0,223.0 L211.0,227.8 L212.0,232.3 L213.0,236.7 L214.0,240.8 L215.0,244.7 L216.0,248.3 L217.0,251.7 L218.0,254.9 L219.0,257.8 L220.0,260.4 L221.0,262.7 L222.0,264.7 L223.0,266.5 L224.0,267.9 L225.0,269.0 L226.0,269.9 L227.0,270.4 L228.0,270.6 L229.0,270.5 L230.0,270.2 L231.0,269.5 L232.0,268.6 L233.0,267.5 L234.0,266.1 L235.0,264.4 L236.0,262.5 L237.0,260.4 L238.0,258.0 L239.0,255.3 L240.0,252.5 L241.0,249.4 L242.0,246.1 L243.0,242.6 L244.0,239.0 L245.0,235.1 L246.0,231.1 L247.0,226.9 L248.0,222.6 L249.0,218.1 L250.0,213.6 L251.0,208.9 L252.0,204.1 L253.0,199.2 L254.0,194.3 L255.0,189.3 L256.0,184.2 L257.0,179.1 L258.0,174.1 L259.0,169.0 L260.0,163.9 L261.0,158.9 L262.0,153.8 L263.0,148.9 L264.0,144.0 L265.0,139.2 L266.0,134.5 L267.0,129.9 L268.0,125.4 L269.0,121.1 L270.0,116.9 L271.0,112.9 L272.0,109.0 L273.0,105.3 L274.0,101.8 L275.0,98.5 L276.0,95.4 L277.0,92.5 L278.0,89.9 L279.0,87.4 L280.0,85.2 L281.0,83.3 L282.0,81.6 L283.0,80.2 L284.0,79.0 L285.0,78.1 L286.0,77.4 L287.0,77.0 L288.0,76.9 L289.0,77.0 L290.0,77.4 L291.0,77.9 L292.0,78.7 L293.0,79.7 L294.0,80.9 L295.0,82.3 L296.0,83.9 L297.0,85.8 L298.0,87.8 L299.0,90.0 L300.0,92.4 L301.0,95.0 L302.0,97.7 L303.0,100.6 L304.0,103.7 L305.0,106.9 L306.0,110.3 L307.0,113.8 L308.0,117.4 L309.0,121.1 L310.0,124.9 L311.0,128.8 L312.0,132.8 L313.0,136.8 L314.0,140.9 L315.0,145.1 L316.0,149.3 L317.0,153.5 L318.0,157.7 L319.0,162.0 L320.0,166.2 L321.0,170.4 L322.0,174.6 L323.0,178.7 L324.0,182.8 L325.0,186.8 L326.0,190.7 L327.0,194.5 L328.0,198.2 L329.0,201.9 L330.0,205.4 L331.0,208.8 L332.0,212.0 L333.0,215.1 L334.0,218.0 L335.0,220.8 L336.0,223.4 L337.0,225.8 L338.0,228.1 L339.0,230.1 L340.0,232.0 L341.0,233.7 L342.0,235.1 L343.0,236.4 L344.0,237.4 L345.0,238.2 L346.0,238.8 L347.0,239.2 L348.0,239.3 L349.0,239.3 L350.0,239.0 L351.0,238.4 L352.0,237.6 L353.0,236.6 L354.0,235.3 L355.0,233.8 L356.0,232.1 L357.0,230.1 L358.0,227.9 L359.0,225.5 L360.0,222.9 L361.0,220.1 L362.0,217.1 L363.0,214.0 L364.0,210.7 L365.0,207.2 L366.0,203.5 L367.0,199.7 L368.0,195.8 L369.0,191.8 L370.0,187.6 L371.0,183.4 L372.0,179.1 L373.0,174.7 L374.0,170.2 L375.0,165.7 L376.0,161.2 L377.0,156.7 L378.0,152.1 L379.0,147.6 L380.0,143.1 L381.0,138.6 L382.0,134.2 L383.0,129.8 L384.0,125.5 L385.0,121.3 L386.0,117.2 L387.0,113.2 L388.0,109.3 L389.0,105.5 L390.0,101.9 L391.0,98.5 L392.0,95.2 L393.0,92.1 L394.0,89.1 L395.0,86.4 L396.0,83.9 L397.0,81.5 L398.0,79.4 L399.0,77.5 L400.0,75.8 L401.0,74.4 L402.0,73.2 L403.0,72.2 L404.0,71.5 L405.0,71.0 L406.0,70.8 L407.0,70.8 L408.0,71.0 L409.0,71.5 L410.0,72.3 L411.0,73.3 L412.0,74.6 L413.0,76.1 L414.0,77.8 L415.0,79.8 L416.0,82.0 L417.0,84.4 L418.0,87.1 L419.0,89.9 L420.0,92.9 L421.0,96.1 L422.0,99.5 L423.0,103.1 L424.0,106.8 L425.0,110.6 L426.0,114.6 L427.0,118.6 L428.0,122.8 L429.0,127.1 L430.0,131.4 L431.0,135.8 L432.0,140.2 L433.0,144.7 L434.0,149.2 L435.0,153.6 L436.0,158.1 L437.0,162.5 L438.0,166.9 L439.0,171.3 L440.0,175.5 L441.0,179.7 L442.0,183.8 L443.0,187.8 L444.0,191.6 L445.0,195.3 L446.0,198.9 L447.0,202.3 L448.0,205.5 L449.0,208.5 L450.0,211.4 L451.0,214.0 L452.0,216.5 L453.0,218.7 L454.0,220.7 L455.0,222.4 L456.0,224.0 L457.0,225.2 L458.0,226.3 L459.0,227.1 L460.0,227.6 L461.0,227.9 L462.0,227.9 L463.0,227.5 L464.0,226.9 L465.0,225.9 L466.0,224.5" stroke="#ff5a46" stroke-width="2.4" fill="none"/>
<path d="M100.0,245.5 L101.0,247.0 L102.0,248.4 L103.0,249.6 L104.0,250.6 L105.0,251.5 L106.0,252.1 L107.0,252.6 L108.0,252.8 L109.0,252.9 L110.0,252.7 L111.0,252.3 L112.0,251.6 L113.0,250.6 L114.0,249.3 L115.0,247.8 L116.0,246.1 L117.0,244.1 L118.0,241.8 L119.0,239.3 L120.0,236.6 L121.0,233.6 L122.0,230.5 L123.0,227.1 L124.0,223.5 L125.0,219.7 L126.0,215.8 L127.0,211.7 L128.0,207.4 L129.0,202.9 L130.0,198.4 L131.0,193.7 L132.0,188.9 L133.0,184.0 L134.0,179.0 L135.0,173.9 L136.0,168.7 L137.0,163.6 L138.0,158.4 L139.0,153.1 L140.0,147.9 L141.0,142.7 L142.0,137.4 L143.0,132.3 L144.0,127.1 L145.0,122.1 L146.0,117.1 L147.0,112.2 L148.0,107.4 L149.0,102.7 L150.0,98.2 L151.0,93.7 L152.0,89.5 L153.0,85.4 L154.0,81.4 L155.0,77.7 L156.0,74.1 L157.0,70.8 L158.0,67.6 L159.0,64.7 L160.0,62.0 L161.0,59.5 L162.0,57.3 L163.0,55.3 L164.0,53.6 L165.0,52.1 L166.0,50.9 L167.0,50.0 L168.0,49.3 L169.0,48.9 L170.0,48.7 L171.0,48.9 L172.0,49.3 L173.0,50.1 L174.0,51.2 L175.0,52.5 L176.0,54.2 L177.0,56.2 L178.0,58.5 L179.0,61.0 L180.0,63.8 L181.0,66.9 L182.0,70.3 L183.0,73.9 L184.0,77.7 L185.0,81.8 L186.0,86.1 L187.0,90.6 L188.0,95.3 L189.0,100.2 L190.0,105.2 L191.0,110.4 L192.0,115.8 L193.0,121.2 L194.0,126.8 L195.0,132.4 L196.0,138.2 L197.0,144.0 L198.0,149.8 L199.0,155.7 L200.0,161.5 L201.0,167.4 L202.0,173.3 L203.0,179.1 L204.0,184.8 L205.0,190.5 L206.0,196.1 L207.0,201.6 L208.0,207.0 L209.0,212.2 L210.0,217.3 L211.0,222.2 L212.0,227.0 L213.0,231.6 L214.0,235.9 L215.0,240.1 L216.0,244.0 L217.0,247.7 L218.0,251.1 L219.0,254.3 L220.0,257.2 L221.0,259.8 L222.0,262.2 L223.0,264.3 L224.0,266.0 L225.0,267.5 L226.0,268.7 L227.0,269.5 L228.0,270.1 L229.0,270.3 L230.0,270.3 L231.0,270.0 L232.0,269.4 L233.0,268.5 L234.0,267.4 L235.0,266.0 L236.0,264.4 L237.0,262.5 L238.0,260.3 L239.0,258.0 L240.0,255.4 L241.0,252.5 L242.0,249.5 L243.0,246.2 L244.0,242.7 L245.0,239.1 L246.0,235.2 L247.0,231.2 L248.0,227.1 L249.0,222.8 L250.0,218.3 L251.0,213.7 L252.0,209.0 L253.0,204.3 L254.0,199.4 L255.0,194.4 L256.0,189.4 L257.0,184.4 L258.0,179.3 L259.0,174.2 L260.0,169.2 L261.0,164.1 L262.0,159.0 L263.0,154.0 L264.0,149.1 L265.0,144.2 L266.0,139.4 L267.0,134.6 L268.0,130.0 L269.0,125.6 L270.0,121.2 L271.0,117.0 L272.0,112.9 L273.0,109.1 L274.0,105.4 L275.0,101.8 L276.0,98.5 L277.0,95.4 L278.0,92.5 L279.0,89.9 L280.0,87.4 L281.0,85.2 L282.0,83.3 L283.0,81.6 L284.0,80.1 L285.0,78.9 L286.0,78.0 L287.0,77.3 L288.0,76.9 L289.0,76.8 L290.0,76.9 L291.0,77.3 L292.0,77.8 L293.0,78.6 L294.0,79.6 L295.0,80.8 L296.0,82.2 L297.0,83.8 L298.0,85.6 L299.0,87.6 L300.0,89.8 L301.0,92.2 L302.0,94.7 L303.0,97.4 L304.0,100.3 L305.0,103.4 L306.0,106.6 L307.0,109.9 L308.0,113.4 L309.0,116.9 L310.0,120.6 L311.0,124.4 L312.0,128.3 L313.0,132.3 L314.0,136.3 L315.0,140.4 L316.0,144.6 L317.0,148.7 L318.0,152.9 L319.0,157.2 L320.0,161.4 L321.0,165.6 L322.0,169.8 L323.0,173.9 L324.0,178.1 L325.0,182.1 L326.0,186.1 L327.0,190.0 L328.0,193.9 L329.0,197.6 L330.0,201.2 L331.0,204.7 L332.0,208.1 L333.0,211.4 L334.0,214.5 L335.0,217.4 L336.0,220.2 L337.0,222.9 L338.0,225.3 L339.0,227.6 L340.0,229.7 L341.0,231.5 L342.0,233.2 L343.0,234.7 L344.0,236.0 L345.0,237.1 L346.0,237.9 L347.0,238.6 L348.0,239.0 L349.0,239.2 L350.0,239.2 L351.0,238.9 L352.0,238.4 L353.0,237.6 L354.0,236.6 L355.0,235.4 L356.0,233.9 L357.0,232.2 L358.0,230.3 L359.0,228.2 L360.0,225.8 L361.0,223.3 L362.0,220.5 L363.0,217.5 L364.0,214.4 L365.0,211.1 L366.0,207.6 L367.0,204.0 L368.0,200.2 L369.0,196.3 L370.0,192.3 L371.0,188.2 L372.0,183.9 L373.0,179.6 L374.0,175.2 L375.0,170.8 L376.0,166.3 L377.0,161.8 L378.0,157.2 L379.0,152.7 L380.0,148.2 L381.0,143.6 L382.0,139.1 L383.0,134.7 L384.0,130.3 L385.0,126.0 L386.0,121.8 L387.0,117.6 L388.0,113.6 L389.0,109.7 L390.0,106.0 L391.0,102.3 L392.0,98.9 L393.0,95.5 L394.0,92.4 L395.0,89.5 L396.0,86.7 L397.0,84.1 L398.0,81.8 L399.0,79.6 L400.0,77.7 L401.0,76.0 L402.0,74.5 L403.0,73.3 L404.0,72.3 L405.0,71.6 L406.0,71.1 L407.0,70.8 L408.0,70.8 L409.0,71.0 L410.0,71.5 L411.0,72.2 L412.0,73.2 L413.0,74.4 L414.0,75.9 L415.0,77.6 L416.0,79.6 L417.0,81.8 L418.0,84.1 L419.0,86.7 L420.0,89.5 L421.0,92.5 L422.0,95.7 L423.0,99.1 L424.0,102.6 L425.0,106.3 L426.0,110.1 L427.0,114.0 L428.0,118.0 L429.0,122.2 L430.0,126.4 L431.0,130.7 L432.0,135.1 L433.0,139.5 L434.0,144.0 L435.0,148.4 L436.0,152.9 L437.0,157.3 L438.0,161.8 L439.0,166.1 L440.0,170.5 L441.0,174.7 L442.0,178.9 L443.0,183.0 L444.0,187.0 L445.0,190.8 L446.0,194.5 L447.0,198.1 L448.0,201.5 L449.0,204.8 L450.0,207.8 L451.0,210.7 L452.0,213.4 L453.0,215.9 L454.0,218.1 L455.0,220.1 L456.0,221.9 L457.0,223.5 L458.0,224.8 L459.0,225.9 L460.0,226.7 L461.0,227.3 L462.0,227.6 L463.0,227.7 L464.0,227.4 L465.0,226.8 L466.0,225.9" stroke="#ff543e" stroke-width="2.4" fill="none"/>
<path d="M100.0,243.9 L101.0,245.6 L102.0,247.1 L103.0,248.4 L104.0,249.6 L105.0,250.6 L106.0,251.4 L107.0,252.0 L108.0,252.5 L109.0,252.7 L110.0,252.7 L111.0,252.5 L112.0,252.1 L113.0,251.3 L114.0,250.3 L115.0,249.1 L116.0,247.5 L117.0,245.8 L118.0,243.8 L119.0,241.5 L120.0,239.0 L121.0,236.3 L122.0,233.3 L123.0,230.1 L124.0,226.8 L125.0,223.2 L126.0,219.4 L127.0,215.5 L128.0,211.3 L129.0,207.1 L130.0,202.7 L131.0,198.1 L132.0,193.4 L133.0,188.6 L134.0,183.7 L135.0,178.7 L136.0,173.7 L137.0,168.6 L138.0,163.4 L139.0,158.2 L140.0,153.0 L141.0,147.8 L142.0,142.6 L143.0,137.4 L144.0,132.2 L145.0,127.1 L146.0,122.1 L147.0,117.1 L148.0,112.2 L149.0,107.5 L150.0,102.8 L151.0,98.2 L152.0,93.8 L153.0,89.6 L154.0,85.5 L155.0,81.5 L156.0,77.8 L157.0,74.2 L158.0,70.9 L159.0,67.7 L160.0,64.8 L161.0,62.1 L162.0,59.6 L163.0,57.4 L164.0,55.4 L165.0,53.6 L166.0,52.1 L167.0,50.9 L168.0,49.9 L169.0,49.2 L170.0,48.8 L171.0,48.6 L172.0,48.7 L173.0,49.1 L174.0,49.9 L175.0,50.9 L176.0,52.2 L177.0,53.9 L178.0,55.8 L179.0,58.0 L180.0,60.5 L181.0,63.3 L182.0,66.4 L183.0,69.7 L184.0,73.3 L185.0,77.1 L186.0,81.1 L187.0,85.4 L188.0,89.9 L189.0,94.6 L190.0,99.4 L191.0,104.4 L192.0,109.6 L193.0,114.9 L194.0,120.4 L195.0,125.9 L196.0,131.6 L197.0,137.3 L198.0,143.1 L199.0,148.9 L200.0,154.8 L201.0,160.6 L202.0,166.5 L203.0,172.3 L204.0,178.2 L205.0,183.9 L206.0,189.6 L207.0,195.2 L208.0,200.7 L209.0,206.1 L210.0,211.4 L211.0,216.5 L212.0,221.4 L213.0,226.2 L214.0,230.8 L215.0,235.2 L216.0,239.3 L217.0,243.3 L218.0,247.0 L219.0,250.5 L220.0,253.7 L221.0,256.6 L222.0,259.3 L223.0,261.7 L224.0,263.8 L225.0,265.6 L226.0,267.1 L227.0,268.3 L228.0,269.2 L229.0,269.8 L230.0,270.1 L231.0,270.0 L232.0,269.7 L233.0,269.2 L234.0,268.4 L235.0,267.3 L236.0,265.9 L237.0,264.3 L238.0,262.4 L239.0,260.3 L240.0,258.0 L241.0,255.4 L242.0,252.6 L243.0,249.5 L244.0,246.3 L245.0,242.8 L246.0,239.2 L247.0,235.4 L248.0,231.4 L249.0,227.2 L250.0,222.9 L251.0,218.5 L252.0,213.9 L253.0,209.2 L254.0,204.4 L255.0,199.6 L256.0,194.6 L257.0,189.6 L258.0,184.6 L259.0,179.5 L260.0,174.4 L261.0,169.3 L262.0,164.3 L263.0,159.2 L264.0,154.2 L265.0,149.2 L266.0,144.3 L267.0,139.5 L268.0,134.8 L269.0,130.2 L270.0,125.7 L271.0,121.3 L272.0,117.1 L273.0,113.0 L274.0,109.1 L275.0,105.4 L276.0,101.9 L277.0,98.6 L278.0,95.4 L279.0,92.5 L280.0,89.9 L281.0,87.4 L282.0,85.2 L283.0,83.2 L284.0,81.5 L285.0,80.1 L286.0,78.9 L287.0,77.9 L288.0,77.3 L289.0,76.9 L290.0,76.7 L291.0,76.8 L292.0,77.2 L293.0,77.7 L294.0,78.5 L295.0,79.4 L296.0,80.6 L297.0,82.0 L298.0,83.6 L299.0,85.4 L300.0,87.4 L301.0,89.5 L302.0,91.9 L303.0,94.4 L304.0,97.2 L305.0,100.0 L306.0,103.1 L307.0,106.2 L308.0,109.5 L309.0,113.0 L310.0,116.5 L311.0,120.2 L312.0,124.0 L313.0,127.9 L314.0,131.8 L315.0,135.8 L316.0,139.9 L317.0,144.0 L318.0,148.2 L319.0,152.4 L320.0,156.6 L321.0,160.8 L322.0,165.0 L323.0,169.2 L324.0,173.3 L325.0,177.4 L326.0,181.5 L327.0,185.5 L328.0,189.4 L329.0,193.2 L330.0,197.0 L331.0,200.6 L332.0,204.1 L333.0,207.5 L334.0,210.8 L335.0,213.9 L336.0,216.9 L337.0,219.7 L338.0,222.3 L339.0,224.8 L340.0,227.1 L341.0,229.2 L342.0,231.1 L343.0,232.8 L344.0,234.3 L345.0,235.6 L346.0,236.7 L347.0,237.6 L348.0,238.3 L349.0,238.8 L350.0,239.0 L351.0,239.0 L352.0,238.8 L353.0,238.3 L354.0,237.6 L355.0,236.7 L356.0,235.5 L357.0,234.1 L358.0,232.4 L359.0,230.5 L360.0,228.4 L361.0,226.1 L362.0,223.6 L363.0,220.8 L364.0,217.9 L365.0,214.8 L366.0,211.5 L367.0,208.1 L368.0,204.5 L369.0,200.7 L370.0,196.8 L371.0,192.8 L372.0,188.7 L373.0,184.5 L374.0,180.2 L375.0,175.8 L376.0,171.4 L377.0,166.9 L378.0,162.4 L379.0,157.8 L380.0,153.3 L381.0,148.7 L382.0,144.2 L383.0,139.7 L384.0,135.2 L385.0,130.8 L386.0,126.5 L387.0,122.3 L388.0,118.1 L389.0,114.1 L390.0,110.2 L391.0,106.4 L392.0,102.7 L393.0,99.2 L394.0,95.9 L395.0,92.7 L396.0,89.8 L397.0,87.0 L398.0,84.4 L399.0,82.0 L400.0,79.8 L401.0,77.9 L402.0,76.2 L403.0,74.7 L404.0,73.4 L405.0,72.4 L406.0,71.6 L407.0,71.1 L408.0,70.8 L409.0,70.8 L410.0,71.0 L411.0,71.4 L412.0,72.2 L413.0,73.1 L414.0,74.3 L415.0,75.8 L416.0,77.5 L417.0,79.4 L418.0,81.5 L419.0,83.9 L420.0,86.4 L421.0,89.2 L422.0,92.2 L423.0,95.3 L424.0,98.6 L425.0,102.1 L426.0,105.8 L427.0,109.5 L428.0,113.4 L429.0,117.5 L430.0,121.6 L431.0,125.8 L432.0,130.1 L433.0,134.4 L434.0,138.8 L435.0,143.2 L436.0,147.7 L437.0,152.1 L438.0,156.6 L439.0,161.0 L440.0,165.4 L441.0,169.7 L442.0,173.9 L443.0,178.1 L444.0,182.2 L445.0,186.2 L446.0,190.0 L447.0,193.8 L448.0,197.4 L449.0,200.8 L450.0,204.0 L451.0,207.1 L452.0,210.0 L453.0,212.7 L454.0,215.2 L455.0,217.5 L456.0,219.6 L457.0,221.4 L458.0,223.0 L459.0,224.4 L460.0,225.5 L461.0,226.4 L462.0,227.0 L463.0,227.4 L464.0,227.5 L465.0,227.3 L466.0,226.8" stroke="#ff4e38" stroke-width="2.4" fill="none"/>
<path d="M100.0,242.2 L101.0,244.0 L102.0,245.7 L103.0,247.2 L104.0,248.5 L105.0,249.6 L106.0,250.6 L107.0,251.4 L108.0,252.0 L109.0,252.4 L110.0,252.6 L111.0,252.6 L112.0,252.3 L113.0,251.8 L114.0,251.1 L115.0,250.1 L116.0,248.8 L117.0,247.3 L118.0,245.5 L119.0,243.4 L120.0,241.2 L121.0,238.7 L122.0,235.9 L123.0,233.0 L124.0,229.8 L125.0,226.4 L126.0,222.8 L127.0,219.1 L128.0,215.1 L129.0,211.0 L130.0,206.8 L131.0,202.4 L132.0,197.8 L133.0,193.1 L134.0,188.4 L135.0,183.5 L136.0,178.5 L137.0,173.5 L138.0,168.4 L139.0,163.3 L140.0,158.1 L141.0,152.9 L142.0,147.7 L143.0,142.5 L144.0,137.3 L145.0,132.2 L146.0,127.1 L147.0,122.1 L148.0,117.1 L149.0,112.3 L150.0,107.5 L151.0,102.9 L152.0,98.3 L153.0,93.9 L154.0,89.7 L155.0,85.6 L156.0,81.7 L157.0,77.9 L158.0,74.4 L159.0,71.0 L160.0,67.8 L161.0,64.9 L162.0,62.2 L163.0,59.7 L164.0,57.5 L165.0,55.4 L166.0,53.7 L167.0,52.2 L168.0,50.9 L169.0,49.9 L170.0,49.2 L171.0,48.7 L172.0,48.5 L173.0,48.6 L174.0,48.9 L175.0,49.6 L176.0,50.6 L177.0,51.9 L178.0,53.5 L179.0,55.4 L180.0,57.6 L181.0,60.1 L182.0,62.8 L183.0,65.8 L184.0,69.1 L185.0,72.7 L186.0,76.5 L187.0,80.5 L188.0,84.7 L189.0,89.2 L190.0,93.8 L191.0,98.6 L192.0,103.6 L193.0,108.8 L194.0,114.1 L195.0,119.5 L196.0,125.1 L197.0,130.7 L198.0,136.4 L199.0,142.2 L200.0,148.0 L201.0,153.9 L202.0,159.7 L203.0,165.6 L204.0,171.4 L205.0,177.3 L206.0,183.0 L207.0,188.7 L208.0,194.3 L209.0,199.8 L210.0,205.2 L211.0,210.5 L212.0,215.6 L213.0,220.6 L214.0,225.4 L215.0,230.0 L216.0,234.4 L217.0,238.6 L218.0,242.6 L219.0,246.3 L220.0,249.8 L221.0,253.1 L222.0,256.0 L223.0,258.7 L224.0,261.2 L225.0,263.3 L226.0,265.1 L227.0,266.7 L228.0,267.9 L229.0,268.9 L230.0,269.5 L231.0,269.8 L232.0,269.8 L233.0,269.5 L234.0,269.0 L235.0,268.2 L236.0,267.1 L237.0,265.8 L238.0,264.2 L239.0,262.4 L240.0,260.3 L241.0,258.0 L242.0,255.4 L243.0,252.6 L244.0,249.6 L245.0,246.4 L246.0,242.9 L247.0,239.3 L248.0,235.5 L249.0,231.5 L250.0,227.4 L251.0,223.1 L252.0,218.6 L253.0,214.1 L254.0,209.4 L255.0,204.6 L256.0,199.8 L257.0,194.8 L258.0,189.8 L259.0,184.8 L260.0,179.7 L261.0,174.6 L262.0,169.5 L263.0,164.4 L264.0,159.4 L265.0,154.3 L266.0,149.4 L267.0,144.5 L268.0,139.6 L269.0,134.9 L270.0,130.3 L271.0,125.8 L272.0,121.4 L273.0,117.2 L274.0,113.1 L275.0,109.2 L276.0,105.5 L277.0,101.9 L278.0,98.6 L279.0,95.5 L280.0,92.5 L281.0,89.9 L282.0,87.4 L283.0,85.2 L284.0,83.2 L285.0,81.5 L286.0,80.0 L287.0,78.8 L288.0,77.9 L289.0,77.2 L290.0,76.8 L291.0,76.6 L292.0,76.7 L293.0,77.0 L294.0,77.6 L295.0,78.3 L296.0,79.3 L297.0,80.5 L298.0,81.8 L299.0,83.4 L300.0,85.2 L301.0,87.2 L302.0,89.3 L303.0,91.7 L304.0,94.2 L305.0,96.9 L306.0,99.7 L307.0,102.7 L308.0,105.9 L309.0,109.2 L310.0,112.6 L311.0,116.1 L312.0,119.8 L313.0,123.6 L314.0,127.4 L315.0,131.3 L316.0,135.3 L317.0,139.4 L318.0,143.5 L319.0,147.6 L320.0,151.8 L321.0,156.0 L322.0,160.2 L323.0,164.4 L324.0,168.6 L325.0,172.7 L326.0,176.8 L327.0,180.8 L328.0,184.8 L329.0,188.7 L330.0,192.6 L331.0,196.3 L332.0,200.0 L333.0,203.5 L334.0,206.9 L335.0,210.2 L336.0,213.3 L337.0,216.3 L338.0,219.1 L339.0,221.8 L340.0,224.2 L341.0,226.6 L342.0,228.7 L343.0,230.6 L344.0,232.4 L345.0,233.9 L346.0,235.3 L347.0,236.4 L348.0,237.3 L349.0,238.0 L350.0,238.5 L351.0,238.8 L352.0,238.9 L353.0,238.7 L354.0,238.3 L355.0,237.6 L356.0,236.7 L357.0,235.6 L358.0,234.2 L359.0,232.6 L360.0,230.7 L361.0,228.7 L362.0,226.4 L363.0,223.9 L364.0,221.2 L365.0,218.3 L366.0,215.2 L367.0,212.0 L368.0,208.5 L369.0,205.0 L370.0,201.2 L371.0,197.4 L372.0,193.4 L373.0,189.3 L374.0,185.0 L375.0,180.8 L376.0,176.4 L377.0,171.9 L378.0,167.5 L379.0,162.9 L380.0,158.4 L381.0,153.8 L382.0,149.3 L383.0,144.7 L384.0,140.2 L385.0,135.8 L386.0,131.4 L387.0,127.0 L388.0,122.8 L389.0,118.6 L390.0,114.5 L391.0,110.6 L392.0,106.8 L393.0,103.1 L394.0,99.6 L395.0,96.3 L396.0,93.1 L397.0,90.1 L398.0,87.3 L399.0,84.7 L400.0,82.3 L401.0,80.1 L402.0,78.1 L403.0,76.3 L404.0,74.8 L405.0,73.6 L406.0,72.5 L407.0,71.7 L408.0,71.2 L409.0,70.8 L410.0,70.8 L411.0,71.0 L412.0,71.4 L413.0,72.1 L414.0,73.0 L415.0,74.2 L416.0,75.6 L417.0,77.3 L418.0,79.2 L419.0,81.3 L420.0,83.6 L421.0,86.1 L422.0,88.9 L423.0,91.8 L424.0,94.9 L425.0,98.2 L426.0,101.7 L427.0,105.3 L428.0,109.0 L429.0,112.9 L430.0,116.9 L431.0,121.0 L432.0,125.2 L433.0,129.4 L434.0,133.7 L435.0,138.1 L436.0,142.5 L437.0,146.9 L438.0,151.4 L439.0,155.8 L440.0,160.2 L441.0,164.6 L442.0,168.9 L443.0,173.1 L444.0,177.3 L445.0,181.4 L446.0,185.4 L447.0,189.3 L448.0,193.0 L449.0,196.6 L450.0,200.0 L451.0,203.3 L452.0,206.4 L453.0,209.3 L454.0,212.1 L455.0,214.6 L456.0,216.9 L457.0,219.0 L458.0,220.9 L459.0,222.5 L460.0,223.9 L461.0,225.1 L462.0,226.0 L463.0,226.7 L464.0,227.1 L465.0,227.3 L466.0,227.2" stroke="#ff4832" stroke-width="2.4" fill="none"/>
<path d="M101.0,243.8 L102.0,242.5 L103.0,241.0 L104.0,239.2 L105.0,237.2 L106.0,234.8 L107.0,232.3 L108.0,229.5 L109.0,226.5 L110.0,223.2 L111.0,219.8 L112.0,216.1 L113.0,212.2 L114.0,208.2 L115.0,204.0 L116.0,199.6 L117.0,195.1 L118.0,190.5 L119.0,185.7 L120.0,180.8 L121.0,175.9 L122.0,170.8 L123.0,165.7 L124.0,160.6 L125.0,155.4 L126.0,150.2 L127.0,145.1 L128.0,139.9 L129.0,134.8 L130.0,129.7 L131.0,124.6 L132.0,119.7 L133.0,114.8 L134.0,110.0 L135.0,105.4 L136.0,100.9 L137.0,96.5 L138.0,92.3 L139.0,88.3 L140.0,84.4 L141.0,80.7 L142.0,77.3 L143.0,74.0 L144.0,71.0 L145.0,68.2 L146.0,65.7 L147.0,63.3 L148.0,61.3 L149.0,59.5 L150.0,58.0 L151.0,56.7 L152.0,55.8 L153.0,55.1 L154.0,54.6 L155.0,54.5 L156.0,54.7 L157.0,55.1 L158.0,55.9 L159.0,57.0 L160.0,58.3 L161.0,60.0 L162.0,62.0 L163.0,64.2 L164.0,66.7 L165.0,69.5 L166.0,72.6 L167.0,75.9 L168.0,79.5 L169.0,83.3 L170.0,87.3 L171.0,91.6 L172.0,96.0 L173.0,100.7 L174.0,105.5 L175.0,110.5 L176.0,115.7 L177.0,120.9 L178.0,126.3 L179.0,131.8 L180.0,137.4 L181.0,143.1 L182.0,148.8 L183.0,154.6 L184.0,160.4 L185.0,166.2 L186.0,172.1 L187.0,177.8 L188.0,183.6 L189.0,189.3 L190.0,194.9 L191.0,200.5 L192.0,205.9 L193.0,211.3 L194.0,216.4 L195.0,221.5 L196.0,226.4 L197.0,231.1 L198.0,235.7 L199.0,240.0 L200.0,244.1 L201.0,248.0 L202.0,251.7 L203.0,255.1 L204.0,258.3 L205.0,261.2 L206.0,263.8 L207.0,266.2 L208.0,268.3 L209.0,270.0 L210.0,271.5 L211.0,272.7 L212.0,273.6 L213.0,274.2 L214.0,274.5 L215.0,274.5 L216.0,274.2 L217.0,273.6 L218.0,272.8 L219.0,271.8 L220.0,270.5 L221.0,268.9 L222.0,267.2 L223.0,265.1 L224.0,262.9 L225.0,260.4 L226.0,257.7 L227.0,254.8 L228.0,251.7 L229.0,248.3 L230.0,244.8 L231.0,241.1 L232.0,237.3 L233.0,233.3 L234.0,229.1 L235.0,224.8 L236.0,220.4 L237.0,215.9 L238.0,211.2 L239.0,206.5 L240.0,201.7 L241.0,196.8 L242.0,191.9 L243.0,187.0 L244.0,182.0 L245.0,177.0 L246.0,172.0 L247.0,167.0 L248.0,162.1 L249.0,157.2 L250.0,152.3 L251.0,147.6 L252.0,142.9 L253.0,138.3 L254.0,133.8 L255.0,129.4 L256.0,125.1 L257.0,121.0 L258.0,117.0 L259.0,113.2 L260.0,109.6 L261.0,106.2 L262.0,102.9 L263.0,99.8 L264.0,97.0 L265.0,94.3 L266.0,91.9 L267.0,89.7 L268.0,87.8 L269.0,86.1 L270.0,84.6 L271.0,83.4 L272.0,82.4 L273.0,81.7 L274.0,81.2 L275.0,81.0 L276.0,81.1 L277.0,81.3 L278.0,81.8 L279.0,82.5 L280.0,83.5 L281.0,84.6 L282.0,86.0 L283.0,87.6 L284.0,89.4 L285.0,91.4 L286.0,93.6 L287.0,95.9 L288.0,98.5 L289.0,101.2 L290.0,104.1 L291.0,107.2 L292.0,110.4 L293.0,113.8 L294.0,117.2 L295.0,120.8 L296.0,124.6 L297.0,128.4 L298.0,132.3 L299.0,136.2 L300.0,140.3 L301.0,144.4 L302.0,148.5 L303.0,152.6 L304.0,156.8 L305.0,161.0 L306.0,165.2 L307.0,169.3 L308.0,173.5 L309.0,177.5 L310.0,181.6 L311.0,185.5 L312.0,189.4 L313.0,193.2 L314.0,196.9 L315.0,200.5 L316.0,203.9 L317.0,207.2 L318.0,210.4 L319.0,213.4 L320.0,216.3 L321.0,219.0 L322.0,221.5 L323.0,223.9 L324.0,226.0 L325.0,228.0 L326.0,229.7 L327.0,231.3 L328.0,232.6 L329.0,233.7 L330.0,234.6 L331.0,235.3 L332.0,235.7 L333.0,236.0 L334.0,236.0 L335.0,235.7 L336.0,235.3 L337.0,234.6 L338.0,233.7 L339.0,232.5 L340.0,231.2 L341.0,229.6 L342.0,227.8 L343.0,225.8 L344.0,223.6 L345.0,221.2 L346.0,218.6 L347.0,215.9 L348.0,212.9 L349.0,209.8 L350.0,206.5 L351.0,203.1 L352.0,199.6 L353.0,195.9 L354.0,192.1 L355.0,188.2 L356.0,184.2 L357.0,180.1 L358.0,175.9 L359.0,171.7 L360.0,167.4 L361.0,163.0 L362.0,158.7 L363.0,154.3 L364.0,149.9 L365.0,145.6 L366.0,141.2 L367.0,136.9 L368.0,132.6 L369.0,128.4 L370.0,124.3 L371.0,120.2 L372.0,116.3 L373.0,112.4 L374.0,108.6 L375.0,105.0 L376.0,101.5 L377.0,98.1 L378.0,94.9 L379.0,91.9 L380.0,89.0 L381.0,86.3 L382.0,83.8 L383.0,81.5 L384.0,79.4 L385.0,77.5 L386.0,75.7 L387.0,74.3 L388.0,73.0 L389.0,71.9 L390.0,71.1 L391.0,70.5 L392.0,70.1 L393.0,70.0 L394.0,70.1 L395.0,70.5 L396.0,71.2 L397.0,72.1 L398.0,73.3 L399.0,74.7 L400.0,76.4 L401.0,78.4 L402.0,80.6 L403.0,83.1 L404.0,85.8 L405.0,88.7 L406.0,91.8 L407.0,95.1 L408.0,98.6 L409.0,102.3 L410.0,106.1 L411.0,110.1 L412.0,114.2 L413.0,118.5 L414.0,122.8 L415.0,127.3 L416.0,131.8 L417.0,136.4 L418.0,141.0 L419.0,145.7 L420.0,150.4 L421.0,155.0 L422.0,159.7 L423.0,164.3 L424.0,168.9 L425.0,173.4 L426.0,177.9 L427.0,182.2 L428.0,186.4 L429.0,190.5 L430.0,194.5 L431.0,198.3 L432.0,201.9 L433.0,205.4 L434.0,208.7 L435.0,211.7 L436.0,214.6 L437.0,217.2 L438.0,219.6 L439.0,221.8 L440.0,223.7 L441.0,225.4 L442.0,226.8 L443.0,227.9 L444.0,228.8 L445.0,229.4 L446.0,229.7 L447.0,229.8 L448.0,229.5 L449.0,229.0 L450.0,228.2 L451.0,227.1 L452.0,225.6 L453.0,223.9 L454.0,222.0 L455.0,219.7 L456.0,217.2 L457.0,214.4 L458.0,211.4 L459.0,208.1 L460.0,204.7 L461.0,201.0 L462.0,197.0 L463.0,192.9 L464.0,188.7 L465.0,184.2 L466.0,179.6" stroke="#111" stroke-width="2.35" fill="none"/>
<path d="M100.0,239.8 L101.0,241.8 L102.0,243.6 L103.0,245.3 L104.0,246.8 L105.0,248.1 L106.0,249.3 L107.0,250.3 L108.0,251.1 L109.0,251.7 L110.0,252.1 L111.0,252.3 L112.0,252.4 L113.0,252.2 L114.0,251.8 L115.0,251.1 L116.0,250.1 L117.0,248.9 L118.0,247.4 L119.0,245.7 L120.0,243.7 L121.0,241.5 L122.0,239.1 L123.0,236.4 L124.0,233.5 L125.0,230.4 L126.0,227.1 L127.0,223.6 L128.0,219.9 L129.0,216.0 L130.0,212.0 L131.0,207.8 L132.0,203.5 L133.0,199.0 L134.0,194.4 L135.0,189.6 L136.0,184.8 L137.0,179.9 L138.0,174.9 L139.0,169.9 L140.0,164.8 L141.0,159.6 L142.0,154.5 L143.0,149.3 L144.0,144.1 L145.0,139.0 L146.0,133.9 L147.0,128.8 L148.0,123.8 L149.0,118.8 L150.0,113.9 L151.0,109.2 L152.0,104.5 L153.0,99.9 L154.0,95.5 L155.0,91.2 L156.0,87.1 L157.0,83.1 L158.0,79.3 L159.0,75.7 L160.0,72.2 L161.0,69.0 L162.0,66.0 L163.0,63.2 L164.0,60.6 L165.0,58.3 L166.0,56.2 L167.0,54.3 L168.0,52.7 L169.0,51.3 L170.0,50.2 L171.0,49.3 L172.0,48.7 L173.0,48.4 L174.0,48.3 L175.0,48.5 L176.0,49.1 L177.0,49.9 L178.0,51.0 L179.0,52.5 L180.0,54.2 L181.0,56.3 L182.0,58.6 L183.0,61.2 L184.0,64.1 L185.0,67.3 L186.0,70.7 L187.0,74.3 L188.0,78.2 L189.0,82.4 L190.0,86.7 L191.0,91.3 L192.0,96.0 L193.0,100.9 L194.0,106.0 L195.0,111.2 L196.0,116.6 L197.0,122.1 L198.0,127.6 L199.0,133.3 L200.0,139.1 L201.0,144.9 L202.0,150.7 L203.0,156.6 L204.0,162.4 L205.0,168.3 L206.0,174.1 L207.0,179.9 L208.0,185.6 L209.0,191.3 L210.0,196.8 L211.0,202.3 L212.0,207.6 L213.0,212.8 L214.0,217.9 L215.0,222.8 L216.0,227.5 L217.0,232.0 L218.0,236.3 L219.0,240.4 L220.0,244.2 L221.0,247.8 L222.0,251.2 L223.0,254.3 L224.0,257.1 L225.0,259.7 L226.0,262.0 L227.0,263.9 L228.0,265.6 L229.0,267.0 L230.0,268.1 L231.0,268.9 L232.0,269.3 L233.0,269.5 L234.0,269.4 L235.0,269.0 L236.0,268.3 L237.0,267.3 L238.0,266.1 L239.0,264.7 L240.0,263.0 L241.0,261.0 L242.0,258.8 L243.0,256.3 L244.0,253.6 L245.0,250.7 L246.0,247.6 L247.0,244.2 L248.0,240.7 L249.0,237.0 L250.0,233.1 L251.0,229.0 L252.0,224.7 L253.0,220.4 L254.0,215.9 L255.0,211.2 L256.0,206.5 L257.0,201.7 L258.0,196.7 L259.0,191.8 L260.0,186.7 L261.0,181.7 L262.0,176.6 L263.0,171.5 L264.0,166.4 L265.0,161.3 L266.0,156.2 L267.0,151.2 L268.0,146.3 L269.0,141.4 L270.0,136.7 L271.0,132.0 L272.0,127.4 L273.0,123.0 L274.0,118.7 L275.0,114.6 L276.0,110.6 L277.0,106.8 L278.0,103.2 L279.0,99.7 L280.0,96.5 L281.0,93.5 L282.0,90.7 L283.0,88.2 L284.0,85.9 L285.0,83.8 L286.0,82.0 L287.0,80.4 L288.0,79.1 L289.0,78.1 L290.0,77.3 L291.0,76.8 L292.0,76.5 L293.0,76.5 L294.0,76.8 L295.0,77.2 L296.0,77.9 L297.0,78.8 L298.0,79.8 L299.0,81.1 L300.0,82.6 L301.0,84.3 L302.0,86.2 L303.0,88.3 L304.0,90.5 L305.0,93.0 L306.0,95.6 L307.0,98.4 L308.0,101.3 L309.0,104.4 L310.0,107.6 L311.0,110.9 L312.0,114.4 L313.0,118.0 L314.0,121.7 L315.0,125.5 L316.0,129.4 L317.0,133.3 L318.0,137.4 L319.0,141.4 L320.0,145.5 L321.0,149.7 L322.0,153.8 L323.0,158.0 L324.0,162.2 L325.0,166.4 L326.0,170.5 L327.0,174.6 L328.0,178.7 L329.0,182.7 L330.0,186.6 L331.0,190.5 L332.0,194.2 L333.0,197.9 L334.0,201.5 L335.0,204.9 L336.0,208.3 L337.0,211.5 L338.0,214.5 L339.0,217.4 L340.0,220.1 L341.0,222.7 L342.0,225.1 L343.0,227.3 L344.0,229.4 L345.0,231.2 L346.0,232.9 L347.0,234.3 L348.0,235.6 L349.0,236.6 L350.0,237.5 L351.0,238.1 L352.0,238.5 L353.0,238.7 L354.0,238.7 L355.0,238.4 L356.0,237.9 L357.0,237.1 L358.0,236.1 L359.0,234.8 L360.0,233.4 L361.0,231.6 L362.0,229.7 L363.0,227.5 L364.0,225.1 L365.0,222.6 L366.0,219.8 L367.0,216.8 L368.0,213.6 L369.0,210.3 L370.0,206.8 L371.0,203.1 L372.0,199.3 L373.0,195.4 L374.0,191.4 L375.0,187.2 L376.0,182.9 L377.0,178.6 L378.0,174.2 L379.0,169.7 L380.0,165.2 L381.0,160.7 L382.0,156.1 L383.0,151.6 L384.0,147.0 L385.0,142.5 L386.0,138.0 L387.0,133.5 L388.0,129.2 L389.0,124.8 L390.0,120.6 L391.0,116.5 L392.0,112.5 L393.0,108.6 L394.0,104.9 L395.0,101.3 L396.0,97.9 L397.0,94.6 L398.0,91.5 L399.0,88.6 L400.0,85.9 L401.0,83.4 L402.0,81.1 L403.0,79.0 L404.0,77.1 L405.0,75.5 L406.0,74.1 L407.0,73.0 L408.0,72.1 L409.0,71.4 L410.0,71.0 L411.0,70.8 L412.0,70.9 L413.0,71.2 L414.0,71.8 L415.0,72.6 L416.0,73.7 L417.0,75.0 L418.0,76.5 L419.0,78.3 L420.0,80.3 L421.0,82.5 L422.0,84.9 L423.0,87.5 L424.0,90.4 L425.0,93.4 L426.0,96.6 L427.0,99.9 L428.0,103.4 L429.0,107.1 L430.0,110.9 L431.0,114.8 L432.0,118.8 L433.0,122.9 L434.0,127.1 L435.0,131.4 L436.0,135.7 L437.0,140.1 L438.0,144.5 L439.0,148.9 L440.0,153.3 L441.0,157.7 L442.0,162.1 L443.0,166.4 L444.0,170.7 L445.0,174.9 L446.0,179.0 L447.0,183.0 L448.0,186.9 L449.0,190.7 L450.0,194.4 L451.0,197.9 L452.0,201.2 L453.0,204.4 L454.0,207.4 L455.0,210.3 L456.0,212.9 L457.0,215.3 L458.0,217.5 L459.0,219.5 L460.0,221.3 L461.0,222.8 L462.0,224.1 L463.0,225.2 L464.0,226.0 L465.0,226.6 L466.0,226.9" stroke="#1530ff" stroke-width="2" fill="none"/>
</g>
<line x1="467.3" y1="21.7" x2="467.3" y2="300.4" stroke="#666" stroke-width="2.4"/>
<text x="56" y="29.0" class="ya" textLength="33" lengthAdjust="spacingAndGlyphs">0.55</text><line x1="92" y1="78.4" x2="99" y2="78.4" stroke="#666" stroke-width="1.8"/><text x="56" y="83.9" class="ya" textLength="33" lengthAdjust="spacingAndGlyphs">0.50</text><text x="56" y="138.8" class="ya" textLength="33" lengthAdjust="spacingAndGlyphs">0.45</text><line x1="92" y1="188.2" x2="99" y2="188.2" stroke="#666" stroke-width="1.8"/><text x="56" y="193.7" class="ya" textLength="33" lengthAdjust="spacingAndGlyphs">0.40</text><text x="56" y="248.6" class="ya" textLength="33" lengthAdjust="spacingAndGlyphs">0.35</text><line x1="92" y1="298.0" x2="99" y2="298.0" stroke="#666" stroke-width="1.8"/><text x="56" y="303.5" class="ya" textLength="33" lengthAdjust="spacingAndGlyphs">0.30</text>
<text x="110.2" y="325.4" class="ya" textLength="36.3" lengthAdjust="spacingAndGlyphs">1550</text><text x="189.3" y="325.4" class="ya" textLength="36.3" lengthAdjust="spacingAndGlyphs">1555</text><text x="268.4" y="325.4" class="ya" textLength="36.3" lengthAdjust="spacingAndGlyphs">1560</text><text x="347.5" y="325.4" class="ya" textLength="36.3" lengthAdjust="spacingAndGlyphs">1565</text><text x="426.6" y="325.4" class="ya" textLength="36.3" lengthAdjust="spacingAndGlyphs">1570</text>
<rect x="125.5" y="299.8" width="3" height="1.6" fill="#444"/>
<rect x="443" y="300" width="3" height="1.6" fill="#444"/>
<text x="229.8" y="343.4" font-size="14.4" font-weight="bold" fill="#111" stroke="#111" stroke-width="0.3" textLength="107" lengthAdjust="spacingAndGlyphs">Wavelength, nm</text>
<text transform="translate(39.7,204) rotate(-90)" font-size="16" font-weight="bold" fill="#111" stroke="#111" stroke-width="0.3" textLength="85.5" lengthAdjust="spacingAndGlyphs">Transmission</text>
<text x="340.6" y="54.8" font-size="29" fill="#111" stroke="#111" stroke-width="0.6" textLength="120.6" lengthAdjust="spacingAndGlyphs">50 ng/mL</text>
<path d="M279.2,65.8 H323" stroke="#111" stroke-width="2.8" fill="none" stroke-linecap="round"/><path d="M310,58.2 L325,65.8 L310,73.4" stroke="#000" stroke-width="3.8" fill="none" stroke-linejoin="round" stroke-linecap="round"/>
<line x1="384.8" y1="260.6" x2="401.5" y2="260.6" stroke="#111" stroke-width="3"/>
<line x1="384.8" y1="274" x2="401.5" y2="274" stroke="#1a2cff" stroke-width="2.5"/>
<text x="406" y="265.3" font-size="10.3" fill="#333" textLength="22.5" lengthAdjust="spacingAndGlyphs">First</text>
<text x="406" y="278.1" font-size="10.3" fill="#333" textLength="21" lengthAdjust="spacingAndGlyphs">Last</text>
<!-- Panel B -->
<text x="522.3" y="54.6" font-size="70" fill="#000">B</text>
<line x1="612.5" y1="23" x2="1020" y2="23" stroke="#666" stroke-width="2.3"/>
<line x1="1019.5" y1="22.5" x2="1019.5" y2="297.5" stroke="#333" stroke-width="2.4"/>
<line x1="613.4" y1="21.9" x2="613.4" y2="297.7" stroke="#000" stroke-width="2.6"/>
<line x1="612.3" y1="296.7" x2="1020.5" y2="296.7" stroke="#000" stroke-width="2"/>
<line x1="618.0" y1="296" x2="618.0" y2="300" stroke="#999" stroke-width="2"/><line x1="633.4" y1="296" x2="633.4" y2="301.5" stroke="#2a2a2a" stroke-width="2.5"/><line x1="645.3" y1="296" x2="645.3" y2="301.5" stroke="#2a2a2a" stroke-width="2.5"/><line x1="655.1" y1="296" x2="655.1" y2="301.5" stroke="#2a2a2a" stroke-width="2.5"/><line x1="663.3" y1="296" x2="663.3" y2="301.5" stroke="#2a2a2a" stroke-width="2.5"/><line x1="670.5" y1="296" x2="670.5" y2="301.5" stroke="#2a2a2a" stroke-width="2.5"/><line x1="676.8" y1="296" x2="676.8" y2="301.5" stroke="#2a2a2a" stroke-width="2.5"/><line x1="682.4" y1="296" x2="682.4" y2="304.3" stroke="#2a2a2a" stroke-width="2.5"/><line x1="719.5" y1="296" x2="719.5" y2="301.5" stroke="#2a2a2a" stroke-width="2.5"/><line x1="741.1" y1="296" x2="741.1" y2="301.5" stroke="#2a2a2a" stroke-width="2.5"/><line x1="756.5" y1="296" x2="756.5" y2="301.5" stroke="#2a2a2a" stroke-width="2.5"/><line x1="768.4" y1="296" x2="768.4" y2="301.5" stroke="#2a2a2a" stroke-width="2.5"/><line x1="778.2" y1="296" x2="778.2" y2="301.5" stroke="#2a2a2a" stroke-width="2.5"/><line x1="786.4" y1="296" x2="786.4" y2="301.5" stroke="#2a2a2a" stroke-width="2.5"/><line x1="793.6" y1="296" x2="793.6" y2="301.5" stroke="#2a2a2a" stroke-width="2.5"/><line x1="799.9" y1="296" x2="799.9" y2="301.5" stroke="#2a2a2a" stroke-width="2.5"/><line x1="805.5" y1="296" x2="805.5" y2="304.3" stroke="#2a2a2a" stroke-width="2.5"/><line x1="842.6" y1="296" x2="842.6" y2="301.5" stroke="#2a2a2a" stroke-width="2.5"/><line x1="864.2" y1="296" x2="864.2" y2="301.5" stroke="#2a2a2a" stroke-width="2.5"/><line x1="879.6" y1="296" x2="879.6" y2="301.5" stroke="#2a2a2a" stroke-width="2.5"/><line x1="891.5" y1="296" x2="891.5" y2="301.5" stroke="#2a2a2a" stroke-width="2.5"/><line x1="901.3" y1="296" x2="901.3" y2="301.5" stroke="#2a2a2a" stroke-width="2.5"/><line x1="909.5" y1="296" x2="909.5" y2="301.5" stroke="#2a2a2a" stroke-width="2.5"/><line x1="916.7" y1="296" x2="916.7" y2="301.5" stroke="#2a2a2a" stroke-width="2.5"/><line x1="923.0" y1="296" x2="923.0" y2="301.5" stroke="#2a2a2a" stroke-width="2.5"/><line x1="928.6" y1="296" x2="928.6" y2="304.3" stroke="#2a2a2a" stroke-width="2.5"/><line x1="965.7" y1="296" x2="965.7" y2="300" stroke="#999" stroke-width="2"/><line x1="987.3" y1="296" x2="987.3" y2="300" stroke="#999" stroke-width="2"/><line x1="1002.7" y1="296" x2="1002.7" y2="301.5" stroke="#2a2a2a" stroke-width="2.5"/><line x1="1014.6" y1="296" x2="1014.6" y2="301.5" stroke="#2a2a2a" stroke-width="2.5"/>
<line x1="606" y1="293.0" x2="613" y2="293.0" stroke="#000" stroke-width="2"/><text x="602" y="299.6" text-anchor="end" class="yb">0</text><line x1="606" y1="226.7" x2="613" y2="226.7" stroke="#000" stroke-width="2"/><text x="602" y="233.3" text-anchor="end" class="yb">1</text><line x1="606" y1="159.8" x2="613" y2="159.8" stroke="#000" stroke-width="2"/><text x="602" y="166.4" text-anchor="end" class="yb">2</text><line x1="606" y1="93.3" x2="613" y2="93.3" stroke="#000" stroke-width="2"/><text x="602" y="99.9" text-anchor="end" class="yb">3</text><line x1="606" y1="27.4" x2="613" y2="27.4" stroke="#000" stroke-width="2"/><text x="602" y="34.0" text-anchor="end" class="yb">4</text>
<text x="668.5" y="329.7" font-size="16.6" fill="#111" font-weight="bold" textLength="25" lengthAdjust="spacingAndGlyphs">0.1</text>
<text x="805.9" y="329.7" text-anchor="middle" font-size="16.6" fill="#111" font-weight="bold">1</text>
<text x="919.5" y="329.7" font-size="16.6" fill="#111" font-weight="bold" textLength="20.5" lengthAdjust="spacingAndGlyphs">10</text>
<text x="728.5" y="346.5" font-size="17" fill="#111" stroke="#111" stroke-width="0.5" textLength="176" lengthAdjust="spacingAndGlyphs">Concentration, &#956;g/mL</text>
<text transform="translate(578.3,263.8) rotate(-90)" font-size="18.7" fill="#111" stroke="#111" stroke-width="0.4" textLength="207" lengthAdjust="spacingAndGlyphs">Peak shift in 30 mins, nm</text>
<rect x="647.9" y="80.6" width="161.3" height="63.4" fill="#fff" stroke="#000" stroke-width="2.2"/>
<text x="662.2" y="108.3" font-size="20" fill="#111" stroke="#111" stroke-width="0.45" textLength="129" lengthAdjust="spacingAndGlyphs">50 ng/mL with</text>
<text x="662.2" y="131.8" font-size="20" fill="#111" stroke="#111" stroke-width="0.45" textLength="132" lengthAdjust="spacingAndGlyphs">thinner sensor</text>
<path d="M692,150.5 L653,224" stroke="#000" stroke-width="2.9" fill="none"/><path d="M654.6,209.2 L652.2,225.6 L668.2,217" stroke="#000" stroke-width="3.6" fill="none" stroke-linejoin="round" stroke-linecap="round"/>
<line x1="645.4" y1="210.7" x2="645.4" y2="262" stroke="#ff2c14" stroke-width="2.6"/><line x1="641.9" y1="210.7" x2="648.9" y2="210.7" stroke="#ff2c14" stroke-width="2"/><line x1="641.9" y1="262" x2="648.9" y2="262" stroke="#ff2c14" stroke-width="2"/><rect x="642.1999999999999" y="233.4" width="6.4" height="6.4" fill="#ff2a10"/><line x1="769.5" y1="225.6" x2="769.5" y2="273" stroke="#ff2c14" stroke-width="2.6"/><line x1="766.0" y1="225.6" x2="773.0" y2="225.6" stroke="#ff2c14" stroke-width="2"/><line x1="766.0" y1="273" x2="773.0" y2="273" stroke="#ff2c14" stroke-width="2"/><line x1="891.8" y1="85.8" x2="891.8" y2="210.4" stroke="#ff7a6a" stroke-width="3"/><line x1="888.3" y1="85.8" x2="895.3" y2="85.8" stroke="#ff7a6a" stroke-width="2"/><line x1="888.3" y1="210.4" x2="895.3" y2="210.4" stroke="#ff7a6a" stroke-width="2"/><line x1="1014.5" y1="32.5" x2="1014.5" y2="46" stroke="#ff2c14" stroke-width="2.6"/><line x1="1011.0" y1="32.5" x2="1018.0" y2="32.5" stroke="#ff2c14" stroke-width="2"/><line x1="1011.0" y1="46" x2="1018.0" y2="46" stroke="#ff2c14" stroke-width="2"/><polyline points="769.5,249.7 892.5,148.4 1014.5,39.5" stroke="#ff2a10" stroke-width="2" fill="none"/><rect x="766.3" y="246.5" width="6.4" height="6.4" fill="#ff2a10"/><rect x="889.3" y="145.20000000000002" width="6.4" height="6.4" fill="#ff2a10"/><rect x="1011.3" y="36.3" width="6.4" height="6.4" fill="#ff2a10"/>
</svg>
</body></html>
